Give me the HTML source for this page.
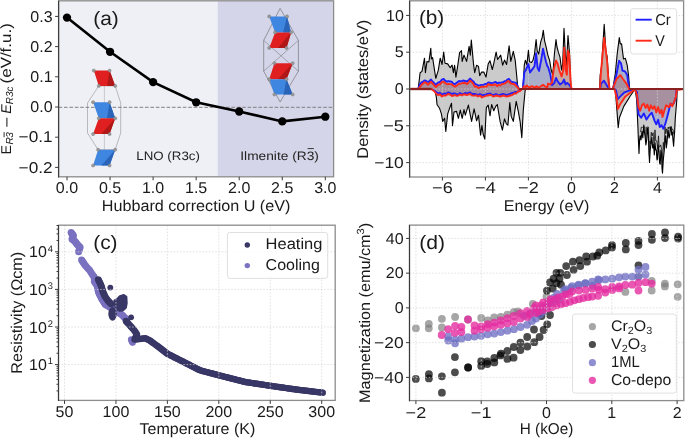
<!DOCTYPE html>
<html><head><meta charset="utf-8"><title>figure</title>
<style>html,body{margin:0;padding:0;background:#fff;width:685px;height:438px;overflow:hidden}
svg{display:block;font-family:"Liberation Sans",sans-serif;text-rendering:geometricPrecision}</style></head>
<body><svg width="685" height="438" viewBox="0 0 685 438">
<rect width="685" height="438" fill="#fff"/>
<rect x="58.6" y="0.8" width="159.07" height="176" fill="#efeff6"/>
<rect x="217.67" y="0.8" width="115.93" height="176" fill="#d5d5e9"/>
<line x1="58.6" y1="107.3" x2="333.6" y2="107.3" stroke="#7a7a7a" stroke-width="0.95" stroke-dasharray="3.6,1.8"/>
<polyline points="98.8,85.9 115.2,85.9 120.7,103 120.7,133 115.2,149.7 98.1,149.7 87.5,133 87.5,103 98.8,85.9" fill="none" stroke="#808080" stroke-width="0.5"/>
<line x1="104.4" y1="86" x2="104.4" y2="150" stroke="#909090" stroke-width="0.4"/>
<polygon points="93.8,70.6 109.6,70.6 115.2,85.9 98.8,85.9" fill="#e02020"/>
<polygon points="109.6,70.6 115.2,85.9 107,85.9" fill="#b01818"/>
<polygon points="93.1,102.2 109.6,102.2 115.2,118.3 98.8,118.3" fill="#3f86e0"/>
<polygon points="109.6,102.2 115.2,118.3 107,118.3" fill="#2a64b8"/>
<polygon points="98.8,118.3 115.2,118.3 109.6,134.1 93.1,134.1" fill="#e02020"/>
<polygon points="115.2,118.3 109.6,134.1 101.35,134.1" fill="#b01818"/>
<polygon points="98.1,149.7 115.2,149.7 109.6,165.5 93.1,165.5" fill="#3f86e0"/>
<polygon points="115.2,149.7 109.6,165.5 101.35,165.5" fill="#2a64b8"/>
<circle cx="93.8" cy="70.6" r="1.6" fill="#9a9a9a" stroke="#6a6a6a" stroke-width="0.35"/>
<circle cx="109.6" cy="70.6" r="1.6" fill="#9a9a9a" stroke="#6a6a6a" stroke-width="0.35"/>
<circle cx="115.2" cy="85.9" r="1.6" fill="#9a9a9a" stroke="#6a6a6a" stroke-width="0.35"/>
<circle cx="98.8" cy="85.9" r="1.6" fill="#9a9a9a" stroke="#6a6a6a" stroke-width="0.35"/>
<circle cx="93.1" cy="102.2" r="1.6" fill="#9a9a9a" stroke="#6a6a6a" stroke-width="0.35"/>
<circle cx="109.6" cy="102.2" r="1.6" fill="#9a9a9a" stroke="#6a6a6a" stroke-width="0.35"/>
<circle cx="115.2" cy="118.3" r="1.6" fill="#9a9a9a" stroke="#6a6a6a" stroke-width="0.35"/>
<circle cx="98.8" cy="118.3" r="1.6" fill="#9a9a9a" stroke="#6a6a6a" stroke-width="0.35"/>
<circle cx="109.6" cy="134.1" r="1.6" fill="#9a9a9a" stroke="#6a6a6a" stroke-width="0.35"/>
<circle cx="93.1" cy="134.1" r="1.6" fill="#9a9a9a" stroke="#6a6a6a" stroke-width="0.35"/>
<circle cx="98.1" cy="149.7" r="1.6" fill="#9a9a9a" stroke="#6a6a6a" stroke-width="0.35"/>
<circle cx="115.2" cy="149.7" r="1.6" fill="#9a9a9a" stroke="#6a6a6a" stroke-width="0.35"/>
<circle cx="109.6" cy="165.5" r="1.6" fill="#9a9a9a" stroke="#6a6a6a" stroke-width="0.35"/>
<circle cx="93.1" cy="165.5" r="1.6" fill="#9a9a9a" stroke="#6a6a6a" stroke-width="0.35"/>
<polyline points="280.1,8.4 298.4,40.4 298.4,71.2 280.1,102 263.7,71.2 263.7,40.4 280.1,8.4" fill="none" stroke="#505050" stroke-width="0.5"/>
<polyline points="263.7,40.4 298.4,71.2" fill="none" stroke="#505050" stroke-width="0.4"/>
<polyline points="298.4,40.4 263.7,71.2" fill="none" stroke="#505050" stroke-width="0.4"/>
<polygon points="269.2,16.4 287,16.4 291.1,32.4 275.1,32.4" fill="#3f86e0"/>
<polygon points="287,16.4 291.1,32.4 283.1,32.4" fill="#2a64b8"/>
<polygon points="275.1,32.4 291.1,32.4 286.5,47.9 269.2,47.9" fill="#e02020"/>
<polygon points="291.1,32.4 286.5,47.9 277.85,47.9" fill="#b01818"/>
<polygon points="274.4,63.2 292.7,63.2 286.5,79.2 269.2,79.2" fill="#e02020"/>
<polygon points="292.7,63.2 286.5,79.2 277.85,79.2" fill="#b01818"/>
<polygon points="269.2,79.2 286.5,79.2 292.7,94.5 274.4,94.5" fill="#3f86e0"/>
<polygon points="286.5,79.2 292.7,94.5 283.55,94.5" fill="#2a64b8"/>
<circle cx="269.2" cy="16.4" r="1.6" fill="#9a9a9a" stroke="#6a6a6a" stroke-width="0.35"/>
<circle cx="287" cy="16.4" r="1.6" fill="#9a9a9a" stroke="#6a6a6a" stroke-width="0.35"/>
<circle cx="291.1" cy="32.4" r="1.6" fill="#9a9a9a" stroke="#6a6a6a" stroke-width="0.35"/>
<circle cx="275.1" cy="32.4" r="1.6" fill="#9a9a9a" stroke="#6a6a6a" stroke-width="0.35"/>
<circle cx="286.5" cy="47.9" r="1.6" fill="#9a9a9a" stroke="#6a6a6a" stroke-width="0.35"/>
<circle cx="269.2" cy="47.9" r="1.6" fill="#9a9a9a" stroke="#6a6a6a" stroke-width="0.35"/>
<circle cx="274.4" cy="63.2" r="1.6" fill="#9a9a9a" stroke="#6a6a6a" stroke-width="0.35"/>
<circle cx="292.7" cy="63.2" r="1.6" fill="#9a9a9a" stroke="#6a6a6a" stroke-width="0.35"/>
<circle cx="286.5" cy="79.2" r="1.6" fill="#9a9a9a" stroke="#6a6a6a" stroke-width="0.35"/>
<circle cx="269.2" cy="79.2" r="1.6" fill="#9a9a9a" stroke="#6a6a6a" stroke-width="0.35"/>
<circle cx="292.7" cy="94.5" r="1.6" fill="#9a9a9a" stroke="#6a6a6a" stroke-width="0.35"/>
<circle cx="274.4" cy="94.5" r="1.6" fill="#9a9a9a" stroke="#6a6a6a" stroke-width="0.35"/>
<polyline points="67,17.6 110.05,51.8 153.1,82.1 196.15,102.3 239.2,111.5 282.25,121.4 325.3,116.7" fill="none" stroke="#000" stroke-width="2.6"/>
<circle cx="67" cy="17.6" r="4.15" fill="#000"/>
<circle cx="110.05" cy="51.8" r="4.15" fill="#000"/>
<circle cx="153.1" cy="82.1" r="4.15" fill="#000"/>
<circle cx="196.15" cy="102.3" r="4.15" fill="#000"/>
<circle cx="239.2" cy="111.5" r="4.15" fill="#000"/>
<circle cx="282.25" cy="121.4" r="4.15" fill="#000"/>
<circle cx="325.3" cy="116.7" r="4.15" fill="#000"/>
<rect x="58.6" y="0.8" width="275" height="176" fill="none" stroke="#8c8c8c" stroke-width="1.3"/>
<line x1="58.6" y1="0.8" x2="58.6" y2="177.4" stroke="#3a3a3a" stroke-width="1.1"/>
<line x1="55.1" y1="16.4" x2="58.6" y2="16.4" stroke="#3a3a3a" stroke-width="1"/>
<line x1="55.1" y1="46.6" x2="58.6" y2="46.6" stroke="#3a3a3a" stroke-width="1"/>
<line x1="55.1" y1="76.8" x2="58.6" y2="76.8" stroke="#3a3a3a" stroke-width="1"/>
<line x1="55.1" y1="107" x2="58.6" y2="107" stroke="#3a3a3a" stroke-width="1"/>
<line x1="55.1" y1="137.2" x2="58.6" y2="137.2" stroke="#3a3a3a" stroke-width="1"/>
<line x1="55.1" y1="167.4" x2="58.6" y2="167.4" stroke="#3a3a3a" stroke-width="1"/>
<line x1="67" y1="176.8" x2="67" y2="180.3" stroke="#3a3a3a" stroke-width="1"/>
<line x1="110.05" y1="176.8" x2="110.05" y2="180.3" stroke="#3a3a3a" stroke-width="1"/>
<line x1="153.1" y1="176.8" x2="153.1" y2="180.3" stroke="#3a3a3a" stroke-width="1"/>
<line x1="196.15" y1="176.8" x2="196.15" y2="180.3" stroke="#3a3a3a" stroke-width="1"/>
<line x1="239.2" y1="176.8" x2="239.2" y2="180.3" stroke="#3a3a3a" stroke-width="1"/>
<line x1="282.25" y1="176.8" x2="282.25" y2="180.3" stroke="#3a3a3a" stroke-width="1"/>
<line x1="325.3" y1="176.8" x2="325.3" y2="180.3" stroke="#3a3a3a" stroke-width="1"/>
<text x="52.6" y="21.6" font-size="15.6" text-anchor="end" textLength="22.26" lengthAdjust="spacingAndGlyphs" fill="#1a1a1a">0.3</text>
<text x="52.6" y="51.8" font-size="15.6" text-anchor="end" textLength="22.26" lengthAdjust="spacingAndGlyphs" fill="#1a1a1a">0.2</text>
<text x="52.6" y="82" font-size="15.6" text-anchor="end" textLength="22.26" lengthAdjust="spacingAndGlyphs" fill="#1a1a1a">0.1</text>
<text x="52.6" y="112.2" font-size="15.6" text-anchor="end" textLength="22.26" lengthAdjust="spacingAndGlyphs" fill="#1a1a1a">0.0</text>
<text x="52.6" y="142.4" font-size="15.6" text-anchor="end" textLength="34" lengthAdjust="spacingAndGlyphs" fill="#1a1a1a">−0.1</text>
<text x="52.6" y="172.6" font-size="15.6" text-anchor="end" textLength="34" lengthAdjust="spacingAndGlyphs" fill="#1a1a1a">−0.2</text>
<text x="67" y="192.7" font-size="15.6" text-anchor="middle" textLength="22.26" lengthAdjust="spacingAndGlyphs" fill="#1a1a1a">0.0</text>
<text x="110.05" y="192.7" font-size="15.6" text-anchor="middle" textLength="22.26" lengthAdjust="spacingAndGlyphs" fill="#1a1a1a">0.5</text>
<text x="153.1" y="192.7" font-size="15.6" text-anchor="middle" textLength="22.26" lengthAdjust="spacingAndGlyphs" fill="#1a1a1a">1.0</text>
<text x="196.15" y="192.7" font-size="15.6" text-anchor="middle" textLength="22.26" lengthAdjust="spacingAndGlyphs" fill="#1a1a1a">1.5</text>
<text x="239.2" y="192.7" font-size="15.6" text-anchor="middle" textLength="22.26" lengthAdjust="spacingAndGlyphs" fill="#1a1a1a">2.0</text>
<text x="282.25" y="192.7" font-size="15.6" text-anchor="middle" textLength="22.26" lengthAdjust="spacingAndGlyphs" fill="#1a1a1a">2.5</text>
<text x="325.3" y="192.7" font-size="15.6" text-anchor="middle" textLength="22.26" lengthAdjust="spacingAndGlyphs" fill="#1a1a1a">3.0</text>
<text x="196.1" y="211" font-size="15.6" text-anchor="middle" textLength="188.55" lengthAdjust="spacingAndGlyphs" fill="#1a1a1a">Hubbard correction U (eV)</text>
<text x="93.2" y="24.8" font-size="19.5" textLength="25.6" lengthAdjust="spacingAndGlyphs" fill="#1a1a1a">(a)</text>
<text x="136.3" y="160" font-size="12.2" textLength="63.6" lengthAdjust="spacingAndGlyphs" fill="#222">LNO (R3c)</text>
<text x="240.3" y="160" font-size="12.2" textLength="78.6" lengthAdjust="spacingAndGlyphs" fill="#222">Ilmenite (R3)</text>
<line x1="307.6" y1="148.6" x2="313.8" y2="148.6" stroke="#222" stroke-width="0.9"/>
<g transform="translate(10.5,154.6) rotate(-90)" fill="#1a1a1a"><text x="0.2" y="0" font-size="14.2">E</text><text x="10.0" y="2.6" font-size="10.2" font-style="italic">R</text><text x="16.9" y="2.6" font-size="10.2" font-style="italic">3</text><line x1="17.4" y1="-6.4" x2="22.4" y2="-6.4" stroke="#1a1a1a" stroke-width="0.9"/><line x1="27.8" y1="-3.6" x2="36.9" y2="-3.6" stroke="#1a1a1a" stroke-width="1.05"/><text x="40.8" y="0" font-size="14.2" font-style="italic">E</text><text x="50.4" y="2.6" font-size="10.2" font-style="italic" textLength="17.6" lengthAdjust="spacingAndGlyphs">R3c</text><text x="71.2" y="0" font-size="14.8" textLength="60.2" lengthAdjust="spacingAndGlyphs">(eV/f.u.)</text></g>
<polygon points="409.6,89 418.2,89 420.1,72.7 422,71.4 424.5,58.2 425.4,72.7 427,61.4 428.9,62 430.8,48.2 431.4,58.9 432.6,57.6 435.8,78.3 438.3,70.2 440.2,58.2 442.1,64.5 443.7,52 445,63.3 447.7,63.9 450.2,67.7 452.1,65.2 453.4,72.7 454.6,65.2 455.9,77.1 457.8,65.2 459.6,52.6 461.5,50.7 462.2,61.4 464,55.1 466.6,61.4 469.1,46.3 470.3,55.1 471.3,40 473.5,63.9 474.7,72.7 476.6,65.2 478.5,66.4 479.7,75.8 481.6,72.1 483.8,72 486,77.1 488.2,63.9 490,60.8 492.3,69.5 493.8,63.3 496.1,52 497.6,59.5 500.7,55.1 502.6,65.2 504.5,60.1 506.6,64.5 509.1,45.7 510.8,61.4 513.3,51.3 515.2,60.1 517.7,86.5 518.9,89 522.7,89 522.9,89 523.1,86.3 524.3,64.8 525.4,60.2 526.9,64.8 528.4,50.3 529.5,61.8 531.5,62.5 533,60.2 534.5,54.1 536.1,39.5 537.2,51 538.7,54.1 540.7,41.8 542.2,37.3 543.3,30.4 544.5,40.3 546,46.4 547.3,52.6 548,55.6 549.6,60.4 551.2,70 552.8,74.8 554.4,54 556,39.6 556.8,46 558.4,52.4 560,57.2 561.6,70 562.7,63.6 564,28.4 565.3,54 566.4,65.2 568,35.6 569.6,54 570.7,82.8 571.7,89 599.6,89 600.2,75 601.5,66.5 604.2,24.4 605.9,51.4 607.1,56.4 608.4,75 609.6,89 612.8,89 615.3,73.8 617.2,53.9 619.3,37.6 620.3,43.9 621.6,43.9 623.5,58.9 625.4,58.3 627.2,65.2 628.5,75 629.7,89 683.6,89 683.6,89 678,89 677.2,90 676.8,100 675.9,110.7 675.3,118 674.6,132.1 674.1,138 673.6,146.3 673,140 672.3,132.1 671.7,135 671.1,126.7 670.4,128 669.7,135.7 669,138 668.2,130.3 667.6,135 667,142.8 666.3,148 665.7,135.7 665,140 664.3,149.9 663.3,160 662.5,173.1 662,168 661.6,153.5 660.9,150 660.2,164.2 659.6,163 659,151.7 658.2,145 657.5,158.8 657,160 656.3,149.9 655.7,150 655,142.8 654.3,155 653.6,144.6 652.7,148 651.8,137.4 650.9,144.6 650.2,150 649.5,162.4 648.9,150 648.3,133.9 647.5,128 646.8,139.2 645.9,145 645,135.7 644.4,132 643.8,125 642.8,138 642,131.2 641,140 640.2,135.7 639.6,140 639,153.5 638.4,140 637.9,126.7 636.7,100 635.2,90 633.9,90.7 630.1,96.3 623.8,106.4 619.4,117.7 618.2,127.7 616.9,110.1 615.3,89.5 614.5,89 526.5,89 525.2,90 523.3,110.1 521.8,137.8 520.2,122.1 518.3,111.4 516.2,101.3 513.3,121.4 511.2,116.4 509.8,102.6 507.9,125.2 506.4,123.9 504.5,118.9 502.4,130.2 500.1,121.4 497.3,104.5 495.7,106.4 493.8,110.8 491.6,104.5 490,115.8 488.2,105.1 486.3,107.6 484.8,139 483.1,134 481.9,125.2 480.6,135.3 478.5,115.2 476.6,120.8 474.1,108.9 471.6,121.4 470.3,115.2 468.4,105.1 465.3,115.2 464,109.5 462.2,118.3 460.3,110.1 458.4,118.3 456.5,111.4 454,112 452.5,125.8 451.5,103.2 449.6,108.2 447.7,113.9 445.8,131.5 444.6,118.3 442.7,121.4 441.4,113.9 439.5,108.2 437,104.5 436.4,97.6 435.2,91.3 431.4,89 409.6,89" fill="#cbcbcb"/>
<polygon points="409.6,89 418.2,89 420,84 421.5,82.36 423,81.75 424.5,80.5 426.25,81.02 428,82 429.5,80.94 431,79.5 432.5,81.48 434,83 436,85 438,82.72 440,82 441.85,79.62 443.7,79 445.35,80.86 447,81.5 448.67,81.23 450.33,81.36 452,82 453.5,83.89 455,84 457,82.45 459,81 461,81.36 463,80.5 465,80.96 467,81.5 468.5,80.25 470,78.5 472,80.5 473.5,81.62 475,84 476.67,84.68 478.33,85.53 480,85.3 481.67,84.91 483.33,84.87 485,84 486.67,83.88 488.33,82.35 490,82.7 491.43,83.16 492.86,82.86 494.29,82.34 495.71,81.86 497.14,83.36 498.57,82.65 500,82.7 501.52,82.48 503.03,82.15 504.55,81.24 506.07,80.99 507.58,79.43 509.1,79 510.55,81.04 512,82 514,82.4 516,83 519,89 522.7,89 522.9,89 523.1,86 524.3,72.5 526.1,69.4 528.4,64 530,72.5 532.3,69.4 534.5,66.3 536.1,53.3 537.6,67.9 539.1,70.9 541.4,58.7 543,48.7 544.5,55.6 546,61.8 547.3,66 548,66.8 550.4,74.8 552,85.2 554.4,82.8 556,78 557.6,81.2 560,84.4 562.4,82.8 564,79.6 565.6,84.4 567.2,82.8 569.6,85.2 571.2,88 571.5,89 600.2,89 600.9,83.9 604,80.7 607.8,87 609,89 613,89 614,85.1 616.6,73.8 619.1,60.8 621,63.3 622.5,70.7 624.7,71.1 627.2,75.1 629.1,88.3 629.7,89 683.6,89" fill="#d4dcff" style="mix-blend-mode:multiply"/>
<polygon points="409.6,89 431.4,89 434,90.5 436,92 438,93.5 440,93 442,94.5 444,93.5 446,94 448,92.5 450,93 452,94 453.5,93.49 455,93.5 457,94.5 458.5,94.39 460,93 462,94 463.5,94.06 465,93 467,93.5 468.5,92.83 470,92.5 472,94 473.5,93.94 475,94 476.5,94.53 478,95 480,94 482,95.5 484,95 485.5,94.7 487,94 488.5,93.88 490,93.5 491.5,94.33 493,95 494.5,94.67 496,94 498,95.12 500,95 501.5,94.51 503,94 504.5,94.4 506,95 508,94.81 510,94 511.5,93.13 513,93 514.5,92.22 516,92 518,91.67 520,90 522,89 614.5,89 615.9,90.2 617.8,99 620.3,96.4 624.1,92.7 630.4,90.2 635,89.5 637,92 638.5,114.3 641.1,117.8 643.8,113.4 646.5,119.6 649.2,115.4 651.8,112.7 654.5,120.6 656.3,124.3 658.1,119.8 659.8,127 661.6,125.2 663.4,128.7 665.2,124.2 667,117.8 668.8,110.7 670.5,103.6 672.3,105.3 674.1,102.7 675.9,97 676.5,89 683.6,89" fill="#d4dcff" style="mix-blend-mode:multiply"/>
<polygon points="409.6,89 418.2,89 420,86.72 421.5,85.02 423,83.46 424.5,82.26 426.25,82.88 428,84.76 429.5,83.06 431,81.85 432.5,83.44 434,85.21 436,87.06 438,84.74 440,84.3 441.85,81.92 443.7,81.69 445.35,83.28 447,84.21 448.67,83.86 450.33,84.14 452,84.41 453.5,85.69 455,86.63 457,85.2 459,83.69 461,83.64 463,82.96 465,82.81 467,84.1 468.5,82.54 470,80.44 472,82.18 473.5,84.25 475,86.79 476.67,86.38 478.33,88.09 480,87.39 481.67,86.69 483.33,86.82 485,86.52 486.67,86.52 488.33,84 490,85.04 491.43,84.82 492.86,85.33 494.29,84.34 495.71,84.51 497.14,86.13 498.57,84.86 500,85.5 501.52,84.45 503.03,83.84 504.55,83.56 506.07,82.63 507.58,81.26 509.1,81.09 510.55,83.37 512,83.79 514,84.05 516,85.64 519,89 522.7,89 522.9,89 523.8,86.3 525.4,87 526.9,85.5 529.2,87.8 530.8,86.5 532.3,86.3 534,87.5 535.3,87 537,86.3 538.4,87.8 540.5,86.5 543,84.7 544.5,86 546,87 547.3,87.5 548,83.5 550,84.5 552,82.8 553.6,70 556,60.4 557.6,63.6 559.2,70 561.6,76.4 563.2,70 564.3,47.6 565.6,70 566.9,74.8 568,50.8 569.1,54 570.7,82.8 571.5,89 600,89 600.9,72.8 604.2,37.6 607.1,61.5 608.4,80 609.6,89 613,89 613.4,87 616.6,78.8 619.1,76.3 620.3,75.1 622.8,78.8 626.6,83.9 629.1,89 683.6,89" fill="#fcd3c9" style="mix-blend-mode:multiply"/>
<polygon points="409.6,89 431.4,89 434,91 436,93.5 438,95 440,94.5 442,96.5 443.5,95.5 446,95.5 448,94 450,94.5 452,96 453.5,95.53 455,95 457,96 458.5,95.32 460,94.5 462,95.5 463.5,94.32 465,94.5 467,95 468.5,94.38 470,94 472,95.5 473.5,95.61 475,95.5 476.5,95.33 478,96.5 480,95.5 482,97.5 484,96.5 485.5,96.16 487,95.5 488.5,95.44 490,95 491.5,95.13 493,96.5 494.5,96.18 496,95.5 498,95.95 500,96.5 501.5,96.25 503,95.5 504.5,95.79 506,96.5 508,96.29 510,95.5 511.5,95.33 513,94.5 514.5,93.33 516,93.5 518,91.63 520,91 522,89 614.5,89 616.6,97.7 617.8,109 620.3,104 625.4,96.4 632.9,90.8 635,89.5 637,95 638.5,107.1 640.2,110.7 642,105.3 643.8,103.6 645.6,108 647.4,104.5 649.2,110.7 650.9,105.3 652.7,108.9 654.5,106.2 656.3,112.5 658.1,107.1 659.8,113.4 661.6,109.8 662.5,116.9 664.3,110.7 666.1,105.3 668.8,107.1 670.5,103.6 672.3,106.2 674.1,101.8 675.9,97 676.6,90 683.6,89" fill="#fcd3c9" style="mix-blend-mode:multiply"/>
<line x1="409.6" y1="15.4" x2="683.6" y2="15.4" stroke="#d6d6d6" stroke-width="0.7" stroke-dasharray="1.6,1.6"/>
<line x1="409.6" y1="52.2" x2="683.6" y2="52.2" stroke="#d6d6d6" stroke-width="0.7" stroke-dasharray="1.6,1.6"/>
<line x1="409.6" y1="89" x2="683.6" y2="89" stroke="#d6d6d6" stroke-width="0.7" stroke-dasharray="1.6,1.6"/>
<line x1="409.6" y1="125.8" x2="683.6" y2="125.8" stroke="#d6d6d6" stroke-width="0.7" stroke-dasharray="1.6,1.6"/>
<line x1="409.6" y1="162.6" x2="683.6" y2="162.6" stroke="#d6d6d6" stroke-width="0.7" stroke-dasharray="1.6,1.6"/>
<line x1="442.4" y1="0.8" x2="442.4" y2="177" stroke="#d6d6d6" stroke-width="0.7" stroke-dasharray="1.6,1.6"/>
<line x1="485.4" y1="0.8" x2="485.4" y2="177" stroke="#d6d6d6" stroke-width="0.7" stroke-dasharray="1.6,1.6"/>
<line x1="528.4" y1="0.8" x2="528.4" y2="177" stroke="#d6d6d6" stroke-width="0.7" stroke-dasharray="1.6,1.6"/>
<line x1="571.4" y1="0.8" x2="571.4" y2="177" stroke="#d6d6d6" stroke-width="0.7" stroke-dasharray="1.6,1.6"/>
<line x1="614.4" y1="0.8" x2="614.4" y2="177" stroke="#d6d6d6" stroke-width="0.7" stroke-dasharray="1.6,1.6"/>
<line x1="657.4" y1="0.8" x2="657.4" y2="177" stroke="#d6d6d6" stroke-width="0.7" stroke-dasharray="1.6,1.6"/>
<line x1="409.6" y1="89" x2="431.4" y2="89" stroke="#8b2020" stroke-width="2.2"/>
<line x1="519" y1="89" x2="614.5" y2="89" stroke="#8b2020" stroke-width="2.2"/>
<line x1="629" y1="89" x2="683.6" y2="89" stroke="#8b2020" stroke-width="2.2"/>
<polyline points="409.6,89 418.2,89 420.1,72.7 422,71.4 424.5,58.2 425.4,72.7 427,61.4 428.9,62 430.8,48.2 431.4,58.9 432.6,57.6 435.8,78.3 438.3,70.2 440.2,58.2 442.1,64.5 443.7,52 445,63.3 447.7,63.9 450.2,67.7 452.1,65.2 453.4,72.7 454.6,65.2 455.9,77.1 457.8,65.2 459.6,52.6 461.5,50.7 462.2,61.4 464,55.1 466.6,61.4 469.1,46.3 470.3,55.1 471.3,40 473.5,63.9 474.7,72.7 476.6,65.2 478.5,66.4 479.7,75.8 481.6,72.1 483.8,72 486,77.1 488.2,63.9 490,60.8 492.3,69.5 493.8,63.3 496.1,52 497.6,59.5 500.7,55.1 502.6,65.2 504.5,60.1 506.6,64.5 509.1,45.7 510.8,61.4 513.3,51.3 515.2,60.1 517.7,86.5 518.9,89 522.7,89 522.9,89 523.1,86.3 524.3,64.8 525.4,60.2 526.9,64.8 528.4,50.3 529.5,61.8 531.5,62.5 533,60.2 534.5,54.1 536.1,39.5 537.2,51 538.7,54.1 540.7,41.8 542.2,37.3 543.3,30.4 544.5,40.3 546,46.4 547.3,52.6 548,55.6 549.6,60.4 551.2,70 552.8,74.8 554.4,54 556,39.6 556.8,46 558.4,52.4 560,57.2 561.6,70 562.7,63.6 564,28.4 565.3,54 566.4,65.2 568,35.6 569.6,54 570.7,82.8 571.7,89 599.6,89 600.2,75 601.5,66.5 604.2,24.4 605.9,51.4 607.1,56.4 608.4,75 609.6,89 612.8,89 615.3,73.8 617.2,53.9 619.3,37.6 620.3,43.9 621.6,43.9 623.5,58.9 625.4,58.3 627.2,65.2 628.5,75 629.7,89 683.6,89" fill="none" stroke="#000" stroke-width="1.1" stroke-linejoin="round"/>
<polyline points="409.6,89 431.4,89 435.2,91.3 436.4,97.6 437,104.5 439.5,108.2 441.4,113.9 442.7,121.4 444.6,118.3 445.8,131.5 447.7,113.9 449.6,108.2 451.5,103.2 452.5,125.8 454,112 456.5,111.4 458.4,118.3 460.3,110.1 462.2,118.3 464,109.5 465.3,115.2 468.4,105.1 470.3,115.2 471.6,121.4 474.1,108.9 476.6,120.8 478.5,115.2 480.6,135.3 481.9,125.2 483.1,134 484.8,139 486.3,107.6 488.2,105.1 490,115.8 491.6,104.5 493.8,110.8 495.7,106.4 497.3,104.5 500.1,121.4 502.4,130.2 504.5,118.9 506.4,123.9 507.9,125.2 509.8,102.6 511.2,116.4 513.3,121.4 516.2,101.3 518.3,111.4 520.2,122.1 521.8,137.8 523.3,110.1 525.2,90 526.5,89 614.5,89 615.3,89.5 616.9,110.1 618.2,127.7 619.4,117.7 623.8,106.4 630.1,96.3 633.9,90.7 635.2,90 636.7,100 637.9,126.7 638.4,140 639,153.5 639.6,140 640.2,135.7 641,140 642,131.2 642.8,138 643.8,125 644.4,132 645,135.7 645.9,145 646.8,139.2 647.5,128 648.3,133.9 648.9,150 649.5,162.4 650.2,150 650.9,144.6 651.8,137.4 652.7,148 653.6,144.6 654.3,155 655,142.8 655.7,150 656.3,149.9 657,160 657.5,158.8 658.2,145 659,151.7 659.6,163 660.2,164.2 660.9,150 661.6,153.5 662,168 662.5,173.1 663.3,160 664.3,149.9 665,140 665.7,135.7 666.3,148 667,142.8 667.6,135 668.2,130.3 669,138 669.7,135.7 670.4,128 671.1,126.7 671.7,135 672.3,132.1 673,140 673.6,146.3 674.1,138 674.6,132.1 675.3,118 675.9,110.7 676.8,100 677.2,90 678,89 683.6,89" fill="none" stroke="#000" stroke-width="1.1" stroke-linejoin="round"/>
<polyline points="640.5,132.15 641.38,127 642.21,127.45 643.11,127 643.96,127 644.96,127 645.71,140.41 646.72,127 647.34,127 648.42,127 649.33,155.71 649.93,140.96 650.56,143.86 651.28,132.25 652.12,136.05 653.14,132.67 654.06,145.91 654.99,129.87 655.73,141.01 656.83,140.93 657.78,149.07 658.49,135.87 659.13,146.79 659.93,147.04 660.72,144.87 661.75,149.83 662.45,164.24 663.29,142.39 664.09,149.55 665,127 665.74,133.81 666.5,128.83 667.48,133.73 668.2,127 668.83,128.82 669.52,127 670.35,127 671.31,127 672.23,129.6 673.04,129.55 673.78,134.53" fill="none" stroke="#111" stroke-width="0.8" stroke-linejoin="round"/>
<polyline points="409.6,89 418.2,89 420,84 421.5,82.36 423,81.75 424.5,80.5 426.25,81.02 428,82 429.5,80.94 431,79.5 432.5,81.48 434,83 436,85 438,82.72 440,82 441.85,79.62 443.7,79 445.35,80.86 447,81.5 448.67,81.23 450.33,81.36 452,82 453.5,83.89 455,84 457,82.45 459,81 461,81.36 463,80.5 465,80.96 467,81.5 468.5,80.25 470,78.5 472,80.5 473.5,81.62 475,84 476.67,84.68 478.33,85.53 480,85.3 481.67,84.91 483.33,84.87 485,84 486.67,83.88 488.33,82.35 490,82.7 491.43,83.16 492.86,82.86 494.29,82.34 495.71,81.86 497.14,83.36 498.57,82.65 500,82.7 501.52,82.48 503.03,82.15 504.55,81.24 506.07,80.99 507.58,79.43 509.1,79 510.55,81.04 512,82 514,82.4 516,83 519,89 522.7,89 522.9,89 523.1,86 524.3,72.5 526.1,69.4 528.4,64 530,72.5 532.3,69.4 534.5,66.3 536.1,53.3 537.6,67.9 539.1,70.9 541.4,58.7 543,48.7 544.5,55.6 546,61.8 547.3,66 548,66.8 550.4,74.8 552,85.2 554.4,82.8 556,78 557.6,81.2 560,84.4 562.4,82.8 564,79.6 565.6,84.4 567.2,82.8 569.6,85.2 571.2,88 571.5,89 600.2,89 600.9,83.9 604,80.7 607.8,87 609,89 613,89 614,85.1 616.6,73.8 619.1,60.8 621,63.3 622.5,70.7 624.7,71.1 627.2,75.1 629.1,88.3 629.7,89 683.6,89" fill="none" stroke="#1f1fff" stroke-width="1.9" stroke-linejoin="round"/>
<polyline points="409.6,89 431.4,89 434,90.5 436,92 438,93.5 440,93 442,94.5 444,93.5 446,94 448,92.5 450,93 452,94 453.5,93.49 455,93.5 457,94.5 458.5,94.39 460,93 462,94 463.5,94.06 465,93 467,93.5 468.5,92.83 470,92.5 472,94 473.5,93.94 475,94 476.5,94.53 478,95 480,94 482,95.5 484,95 485.5,94.7 487,94 488.5,93.88 490,93.5 491.5,94.33 493,95 494.5,94.67 496,94 498,95.12 500,95 501.5,94.51 503,94 504.5,94.4 506,95 508,94.81 510,94 511.5,93.13 513,93 514.5,92.22 516,92 518,91.67 520,90 522,89 614.5,89 615.9,90.2 617.8,99 620.3,96.4 624.1,92.7 630.4,90.2 635,89.5 637,92 638.5,114.3 641.1,117.8 643.8,113.4 646.5,119.6 649.2,115.4 651.8,112.7 654.5,120.6 656.3,124.3 658.1,119.8 659.8,127 661.6,125.2 663.4,128.7 665.2,124.2 667,117.8 668.8,110.7 670.5,103.6 672.3,105.3 674.1,102.7 675.9,97 676.5,89 683.6,89" fill="none" stroke="#1f1fff" stroke-width="1.9" stroke-linejoin="round"/>
<polyline points="409.6,89 418.2,89 420,86.72 421.5,85.02 423,83.46 424.5,82.26 426.25,82.88 428,84.76 429.5,83.06 431,81.85 432.5,83.44 434,85.21 436,87.06 438,84.74 440,84.3 441.85,81.92 443.7,81.69 445.35,83.28 447,84.21 448.67,83.86 450.33,84.14 452,84.41 453.5,85.69 455,86.63 457,85.2 459,83.69 461,83.64 463,82.96 465,82.81 467,84.1 468.5,82.54 470,80.44 472,82.18 473.5,84.25 475,86.79 476.67,86.38 478.33,88.09 480,87.39 481.67,86.69 483.33,86.82 485,86.52 486.67,86.52 488.33,84 490,85.04 491.43,84.82 492.86,85.33 494.29,84.34 495.71,84.51 497.14,86.13 498.57,84.86 500,85.5 501.52,84.45 503.03,83.84 504.55,83.56 506.07,82.63 507.58,81.26 509.1,81.09 510.55,83.37 512,83.79 514,84.05 516,85.64 519,89 522.7,89 522.9,89 523.8,86.3 525.4,87 526.9,85.5 529.2,87.8 530.8,86.5 532.3,86.3 534,87.5 535.3,87 537,86.3 538.4,87.8 540.5,86.5 543,84.7 544.5,86 546,87 547.3,87.5 548,83.5 550,84.5 552,82.8 553.6,70 556,60.4 557.6,63.6 559.2,70 561.6,76.4 563.2,70 564.3,47.6 565.6,70 566.9,74.8 568,50.8 569.1,54 570.7,82.8 571.5,89 600,89 600.9,72.8 604.2,37.6 607.1,61.5 608.4,80 609.6,89 613,89 613.4,87 616.6,78.8 619.1,76.3 620.3,75.1 622.8,78.8 626.6,83.9 629.1,89 683.6,89" fill="none" stroke="#ff2a1a" stroke-width="1.9" stroke-linejoin="round"/>
<polyline points="409.6,89 431.4,89 434,91 436,93.5 438,95 440,94.5 442,96.5 443.5,95.5 446,95.5 448,94 450,94.5 452,96 453.5,95.53 455,95 457,96 458.5,95.32 460,94.5 462,95.5 463.5,94.32 465,94.5 467,95 468.5,94.38 470,94 472,95.5 473.5,95.61 475,95.5 476.5,95.33 478,96.5 480,95.5 482,97.5 484,96.5 485.5,96.16 487,95.5 488.5,95.44 490,95 491.5,95.13 493,96.5 494.5,96.18 496,95.5 498,95.95 500,96.5 501.5,96.25 503,95.5 504.5,95.79 506,96.5 508,96.29 510,95.5 511.5,95.33 513,94.5 514.5,93.33 516,93.5 518,91.63 520,91 522,89 614.5,89 616.6,97.7 617.8,109 620.3,104 625.4,96.4 632.9,90.8 635,89.5 637,95 638.5,107.1 640.2,110.7 642,105.3 643.8,103.6 645.6,108 647.4,104.5 649.2,110.7 650.9,105.3 652.7,108.9 654.5,106.2 656.3,112.5 658.1,107.1 659.8,113.4 661.6,109.8 662.5,116.9 664.3,110.7 666.1,105.3 668.8,107.1 670.5,103.6 672.3,106.2 674.1,101.8 675.9,97 676.6,90 683.6,89" fill="none" stroke="#ff2a1a" stroke-width="1.9" stroke-linejoin="round"/>
<line x1="409.6" y1="89" x2="431.4" y2="89" stroke="#8b2020" stroke-width="2.2"/>
<line x1="519" y1="89" x2="614.5" y2="89" stroke="#8b2020" stroke-width="2.2"/>
<line x1="629.2" y1="89" x2="683.6" y2="89" stroke="#8b2020" stroke-width="2.2"/>
<rect x="409.6" y="0.8" width="274" height="176.2" fill="none" stroke="#8c8c8c" stroke-width="1.3"/>
<line x1="409.6" y1="0.8" x2="409.6" y2="177.6" stroke="#3a3a3a" stroke-width="1.1"/>
<line x1="406.1" y1="15.4" x2="409.6" y2="15.4" stroke="#3a3a3a" stroke-width="1"/>
<line x1="406.1" y1="52.2" x2="409.6" y2="52.2" stroke="#3a3a3a" stroke-width="1"/>
<line x1="406.1" y1="89" x2="409.6" y2="89" stroke="#3a3a3a" stroke-width="1"/>
<line x1="406.1" y1="125.8" x2="409.6" y2="125.8" stroke="#3a3a3a" stroke-width="1"/>
<line x1="406.1" y1="162.6" x2="409.6" y2="162.6" stroke="#3a3a3a" stroke-width="1"/>
<line x1="442.4" y1="177" x2="442.4" y2="180.5" stroke="#3a3a3a" stroke-width="1"/>
<line x1="485.4" y1="177" x2="485.4" y2="180.5" stroke="#3a3a3a" stroke-width="1"/>
<line x1="528.4" y1="177" x2="528.4" y2="180.5" stroke="#3a3a3a" stroke-width="1"/>
<line x1="571.4" y1="177" x2="571.4" y2="180.5" stroke="#3a3a3a" stroke-width="1"/>
<line x1="614.4" y1="177" x2="614.4" y2="180.5" stroke="#3a3a3a" stroke-width="1"/>
<line x1="657.4" y1="177" x2="657.4" y2="180.5" stroke="#3a3a3a" stroke-width="1"/>
<text x="403.8" y="20.6" font-size="15.6" text-anchor="end" textLength="17.81" lengthAdjust="spacingAndGlyphs" fill="#1a1a1a">10</text>
<text x="403.8" y="57.4" font-size="15.6" text-anchor="end" textLength="8.91" lengthAdjust="spacingAndGlyphs" fill="#1a1a1a">5</text>
<text x="403.8" y="94.2" font-size="15.6" text-anchor="end" textLength="8.91" lengthAdjust="spacingAndGlyphs" fill="#1a1a1a">0</text>
<text x="403.8" y="131" font-size="15.6" text-anchor="end" textLength="20.64" lengthAdjust="spacingAndGlyphs" fill="#1a1a1a">−5</text>
<text x="403.8" y="167.8" font-size="15.6" text-anchor="end" textLength="29.54" lengthAdjust="spacingAndGlyphs" fill="#1a1a1a">−10</text>
<text x="442.4" y="193.2" font-size="15.6" text-anchor="middle" textLength="20.64" lengthAdjust="spacingAndGlyphs" fill="#1a1a1a">−6</text>
<text x="485.4" y="193.2" font-size="15.6" text-anchor="middle" textLength="20.64" lengthAdjust="spacingAndGlyphs" fill="#1a1a1a">−4</text>
<text x="528.4" y="193.2" font-size="15.6" text-anchor="middle" textLength="20.64" lengthAdjust="spacingAndGlyphs" fill="#1a1a1a">−2</text>
<text x="571.4" y="193.2" font-size="15.6" text-anchor="middle" textLength="8.91" lengthAdjust="spacingAndGlyphs" fill="#1a1a1a">0</text>
<text x="614.4" y="193.2" font-size="15.6" text-anchor="middle" textLength="8.91" lengthAdjust="spacingAndGlyphs" fill="#1a1a1a">2</text>
<text x="657.4" y="193.2" font-size="15.6" text-anchor="middle" textLength="8.91" lengthAdjust="spacingAndGlyphs" fill="#1a1a1a">4</text>
<text x="546.6" y="210.6" font-size="15.6" text-anchor="middle" textLength="85.64" lengthAdjust="spacingAndGlyphs" fill="#1a1a1a">Energy (eV)</text>
<text x="418.9" y="24.4" font-size="19.5" textLength="25.4" lengthAdjust="spacingAndGlyphs" fill="#1a1a1a">(b)</text>
<rect x="630.6" y="8.7" width="46.1" height="45.3" rx="2.5" fill="#fff" fill-opacity="0.85" stroke="#dcdcdc" stroke-width="0.9"/>
<line x1="635.6" y1="19.7" x2="651.7" y2="19.7" stroke="#1f1fff" stroke-width="1.9"/>
<line x1="635.6" y1="40.7" x2="651.7" y2="40.7" stroke="#ff2a1a" stroke-width="1.9"/>
<text x="655.2" y="24.8" font-size="15.6" textLength="15.53" lengthAdjust="spacingAndGlyphs" fill="#1a1a1a">Cr</text>
<text x="655.2" y="45.6" font-size="15.6" textLength="9.58" lengthAdjust="spacingAndGlyphs" fill="#1a1a1a">V</text>
<g transform="translate(368.2,89.2) rotate(-90)">
<text x="0" y="0" font-size="15.6" text-anchor="middle" textLength="139.1" lengthAdjust="spacingAndGlyphs" fill="#1a1a1a">Density (states/eV)</text>
</g>
<circle cx="71.1" cy="232.4" r="3.5" fill="#7a72c0"/>
<circle cx="71.87" cy="233.4" r="3.5" fill="#7a72c0"/>
<circle cx="72.63" cy="234.4" r="3.5" fill="#7a72c0"/>
<circle cx="73.4" cy="235.4" r="3.5" fill="#7a72c0"/>
<circle cx="72.93" cy="236.63" r="3.5" fill="#7a72c0"/>
<circle cx="72.47" cy="237.87" r="3.5" fill="#7a72c0"/>
<circle cx="72" cy="239.1" r="3.5" fill="#7a72c0"/>
<circle cx="72.97" cy="239.83" r="3.5" fill="#7a72c0"/>
<circle cx="73.93" cy="240.57" r="3.5" fill="#7a72c0"/>
<circle cx="74.9" cy="241.3" r="3.5" fill="#7a72c0"/>
<circle cx="75.63" cy="242.3" r="3.5" fill="#7a72c0"/>
<circle cx="76.37" cy="243.3" r="3.5" fill="#7a72c0"/>
<circle cx="77.1" cy="244.3" r="3.5" fill="#7a72c0"/>
<circle cx="78.1" cy="245.3" r="3.5" fill="#7a72c0"/>
<circle cx="79.1" cy="246.3" r="3.5" fill="#7a72c0"/>
<circle cx="80.1" cy="247.3" r="3.5" fill="#7a72c0"/>
<circle cx="79.6" cy="248.77" r="3.5" fill="#7a72c0"/>
<circle cx="79.1" cy="250.23" r="3.5" fill="#7a72c0"/>
<circle cx="78.6" cy="251.7" r="3.5" fill="#7a72c0"/>
<circle cx="81.5" cy="259.9" r="3.4" fill="#7a72c0"/>
<circle cx="82.25" cy="261.02" r="3.4" fill="#7a72c0"/>
<circle cx="83" cy="262.15" r="3.4" fill="#7a72c0"/>
<circle cx="83.75" cy="263.27" r="3.4" fill="#7a72c0"/>
<circle cx="84.5" cy="264.4" r="3.4" fill="#7a72c0"/>
<circle cx="85.5" cy="265.63" r="3.4" fill="#7a72c0"/>
<circle cx="86.5" cy="266.87" r="3.4" fill="#7a72c0"/>
<circle cx="87.5" cy="268.1" r="3.4" fill="#7a72c0"/>
<circle cx="88.6" cy="269.2" r="3.4" fill="#7a72c0"/>
<circle cx="89.7" cy="270.3" r="3.4" fill="#7a72c0"/>
<circle cx="90.47" cy="271.57" r="3.4" fill="#7a72c0"/>
<circle cx="91.23" cy="272.83" r="3.4" fill="#7a72c0"/>
<circle cx="92" cy="274.1" r="3.4" fill="#7a72c0"/>
<circle cx="92.73" cy="275.07" r="3.4" fill="#7a72c0"/>
<circle cx="93.47" cy="276.03" r="3.4" fill="#7a72c0"/>
<circle cx="94.2" cy="277" r="3.4" fill="#7a72c0"/>
<circle cx="94.23" cy="278.5" r="3.4" fill="#7a72c0"/>
<circle cx="94.27" cy="280" r="3.4" fill="#7a72c0"/>
<circle cx="94.3" cy="281.5" r="3.4" fill="#7a72c0"/>
<circle cx="95.13" cy="282.67" r="3.4" fill="#7a72c0"/>
<circle cx="95.97" cy="283.83" r="3.4" fill="#7a72c0"/>
<circle cx="96.8" cy="285" r="3.4" fill="#7a72c0"/>
<circle cx="97.1" cy="286.25" r="3.4" fill="#7a72c0"/>
<circle cx="97.4" cy="287.5" r="3.4" fill="#7a72c0"/>
<circle cx="97.7" cy="288.75" r="3.4" fill="#7a72c0"/>
<circle cx="98" cy="290" r="3.4" fill="#7a72c0"/>
<circle cx="98.3" cy="291.25" r="3.4" fill="#7a72c0"/>
<circle cx="98.6" cy="292.5" r="3.4" fill="#7a72c0"/>
<circle cx="99.13" cy="293.58" r="3.4" fill="#7a72c0"/>
<circle cx="99.67" cy="294.67" r="3.4" fill="#7a72c0"/>
<circle cx="100.2" cy="295.75" r="3.4" fill="#7a72c0"/>
<circle cx="100.73" cy="296.83" r="3.4" fill="#7a72c0"/>
<circle cx="101.27" cy="297.92" r="3.4" fill="#7a72c0"/>
<circle cx="101.8" cy="299" r="3.4" fill="#7a72c0"/>
<circle cx="102.5" cy="300.1" r="3.4" fill="#7a72c0"/>
<circle cx="103.2" cy="301.2" r="3.4" fill="#7a72c0"/>
<circle cx="103.9" cy="302.3" r="3.4" fill="#7a72c0"/>
<circle cx="104.6" cy="303.4" r="3.4" fill="#7a72c0"/>
<circle cx="105.3" cy="304.5" r="3.4" fill="#7a72c0"/>
<circle cx="106.44" cy="305.17" r="3.4" fill="#7a72c0"/>
<circle cx="107.59" cy="305.84" r="3.4" fill="#7a72c0"/>
<circle cx="108.73" cy="306.51" r="3.4" fill="#7a72c0"/>
<circle cx="109.87" cy="307.19" r="3.4" fill="#7a72c0"/>
<circle cx="111.01" cy="307.86" r="3.4" fill="#7a72c0"/>
<circle cx="112.16" cy="308.53" r="3.4" fill="#7a72c0"/>
<circle cx="113.3" cy="309.2" r="3.4" fill="#7a72c0"/>
<circle cx="114.41" cy="309.94" r="3.4" fill="#7a72c0"/>
<circle cx="115.53" cy="310.68" r="3.4" fill="#7a72c0"/>
<circle cx="116.64" cy="311.41" r="3.4" fill="#7a72c0"/>
<circle cx="117.75" cy="312.15" r="3.4" fill="#7a72c0"/>
<circle cx="118.86" cy="312.89" r="3.4" fill="#7a72c0"/>
<circle cx="119.97" cy="313.62" r="3.4" fill="#7a72c0"/>
<circle cx="121.09" cy="314.36" r="3.4" fill="#7a72c0"/>
<circle cx="122.2" cy="315.1" r="3.4" fill="#7a72c0"/>
<circle cx="123.08" cy="316" r="3.4" fill="#7a72c0"/>
<circle cx="123.96" cy="316.9" r="3.4" fill="#7a72c0"/>
<circle cx="124.84" cy="317.8" r="3.4" fill="#7a72c0"/>
<circle cx="125.72" cy="318.7" r="3.4" fill="#7a72c0"/>
<circle cx="126.6" cy="319.6" r="3.4" fill="#7a72c0"/>
<circle cx="131.2" cy="339.6" r="3.3" fill="#7a72c0"/>
<circle cx="131.67" cy="340.6" r="3.3" fill="#7a72c0"/>
<circle cx="132.13" cy="341.6" r="3.3" fill="#7a72c0"/>
<circle cx="132.6" cy="342.6" r="3.3" fill="#7a72c0"/>
<circle cx="98.2" cy="279.5" r="3.3" fill="#383766"/>
<circle cx="98.8" cy="280.67" r="3.3" fill="#383766"/>
<circle cx="99.4" cy="281.83" r="3.3" fill="#383766"/>
<circle cx="100" cy="283" r="3.3" fill="#383766"/>
<circle cx="100.53" cy="284.3" r="3.3" fill="#383766"/>
<circle cx="101.07" cy="285.6" r="3.3" fill="#383766"/>
<circle cx="101.6" cy="286.9" r="3.3" fill="#383766"/>
<circle cx="101.95" cy="288.17" r="3.3" fill="#383766"/>
<circle cx="102.3" cy="289.45" r="3.3" fill="#383766"/>
<circle cx="102.65" cy="290.73" r="3.3" fill="#383766"/>
<circle cx="103" cy="292" r="3.3" fill="#383766"/>
<circle cx="103.5" cy="293.12" r="3.3" fill="#383766"/>
<circle cx="104" cy="294.25" r="3.3" fill="#383766"/>
<circle cx="104.5" cy="295.38" r="3.3" fill="#383766"/>
<circle cx="105" cy="296.5" r="3.3" fill="#383766"/>
<circle cx="105.87" cy="297.77" r="3.3" fill="#383766"/>
<circle cx="106.73" cy="299.03" r="3.3" fill="#383766"/>
<circle cx="107.6" cy="300.3" r="3.3" fill="#383766"/>
<circle cx="108.45" cy="301.23" r="3.3" fill="#383766"/>
<circle cx="109.3" cy="302.15" r="3.3" fill="#383766"/>
<circle cx="110.15" cy="303.07" r="3.3" fill="#383766"/>
<circle cx="111" cy="304" r="3.3" fill="#383766"/>
<circle cx="110.3" cy="287.6" r="2.9" fill="#383766"/>
<polygon points="114.4,300.8 117.1,299.2 119.9,296.2 123.8,295.1 126.3,297.0 126.6,303.3 125.8,307.6 123.0,310.3 119.7,310.7 117.2,309.2 115.1,305.8" fill="#383766" stroke="#383766" stroke-width="2.2" stroke-linejoin="round"/>
<ellipse cx="112.6" cy="313.8" rx="4.3" ry="6.9" fill="#383766"/>
<circle cx="131.1" cy="317.3" r="2.9" fill="#383766"/>
<circle cx="125.9" cy="321" r="3.2" fill="#383766"/>
<circle cx="126.72" cy="321.9" r="3.2" fill="#383766"/>
<circle cx="127.54" cy="322.8" r="3.2" fill="#383766"/>
<circle cx="128.36" cy="323.7" r="3.2" fill="#383766"/>
<circle cx="129.18" cy="324.6" r="3.2" fill="#383766"/>
<circle cx="130" cy="325.5" r="3.2" fill="#383766"/>
<circle cx="130.8" cy="326.4" r="3.2" fill="#383766"/>
<circle cx="131.6" cy="327.3" r="3.2" fill="#383766"/>
<circle cx="132.4" cy="328.2" r="3.2" fill="#383766"/>
<circle cx="133.2" cy="329.1" r="3.2" fill="#383766"/>
<circle cx="134" cy="330" r="3.2" fill="#383766"/>
<circle cx="134.75" cy="331.1" r="3.2" fill="#383766"/>
<circle cx="135.5" cy="332.2" r="3.2" fill="#383766"/>
<circle cx="136.25" cy="333.3" r="3.2" fill="#383766"/>
<circle cx="137" cy="334.4" r="3.2" fill="#383766"/>
<circle cx="136.38" cy="335.67" r="3.2" fill="#383766"/>
<circle cx="135.75" cy="336.95" r="3.2" fill="#383766"/>
<circle cx="135.12" cy="338.23" r="3.2" fill="#383766"/>
<circle cx="134.5" cy="339.5" r="3.2" fill="#383766"/>
<circle cx="135.88" cy="339.38" r="3.2" fill="#383766"/>
<circle cx="137.25" cy="339.25" r="3.2" fill="#383766"/>
<circle cx="138.62" cy="339.12" r="3.2" fill="#383766"/>
<circle cx="140" cy="339" r="3.2" fill="#383766"/>
<circle cx="141.28" cy="338.8" r="3.2" fill="#383766"/>
<circle cx="142.55" cy="338.6" r="3.2" fill="#383766"/>
<circle cx="143.82" cy="338.4" r="3.2" fill="#383766"/>
<circle cx="145.1" cy="338.2" r="3.2" fill="#383766"/>
<circle cx="146.38" cy="338.82" r="3.2" fill="#383766"/>
<circle cx="147.65" cy="339.45" r="3.2" fill="#383766"/>
<circle cx="148.92" cy="340.07" r="3.2" fill="#383766"/>
<circle cx="150.2" cy="340.7" r="3.2" fill="#383766"/>
<circle cx="151.18" cy="341.43" r="3.2" fill="#383766"/>
<circle cx="152.16" cy="342.16" r="3.2" fill="#383766"/>
<circle cx="153.14" cy="342.89" r="3.2" fill="#383766"/>
<circle cx="154.12" cy="343.62" r="3.2" fill="#383766"/>
<circle cx="155.1" cy="344.35" r="3.2" fill="#383766"/>
<circle cx="156.08" cy="345.08" r="3.2" fill="#383766"/>
<circle cx="157.06" cy="345.81" r="3.2" fill="#383766"/>
<circle cx="158.04" cy="346.54" r="3.2" fill="#383766"/>
<circle cx="159.02" cy="347.27" r="3.2" fill="#383766"/>
<circle cx="160" cy="348" r="3.2" fill="#383766"/>
<circle cx="160.96" cy="348.74" r="3.2" fill="#383766"/>
<circle cx="161.93" cy="349.48" r="3.2" fill="#383766"/>
<circle cx="162.89" cy="350.21" r="3.2" fill="#383766"/>
<circle cx="163.85" cy="350.95" r="3.2" fill="#383766"/>
<circle cx="164.81" cy="351.69" r="3.2" fill="#383766"/>
<circle cx="165.77" cy="352.42" r="3.2" fill="#383766"/>
<circle cx="166.74" cy="353.16" r="3.2" fill="#383766"/>
<circle cx="167.7" cy="353.9" r="3.2" fill="#383766"/>
<circle cx="168.78" cy="354.44" r="3.2" fill="#383766"/>
<circle cx="169.86" cy="354.99" r="3.2" fill="#383766"/>
<circle cx="170.94" cy="355.53" r="3.2" fill="#383766"/>
<circle cx="172.01" cy="356.07" r="3.2" fill="#383766"/>
<circle cx="173.09" cy="356.61" r="3.2" fill="#383766"/>
<circle cx="174.17" cy="357.16" r="3.2" fill="#383766"/>
<circle cx="175.25" cy="357.7" r="3.2" fill="#383766"/>
<circle cx="176.33" cy="358.24" r="3.2" fill="#383766"/>
<circle cx="177.41" cy="358.79" r="3.2" fill="#383766"/>
<circle cx="178.49" cy="359.33" r="3.2" fill="#383766"/>
<circle cx="179.56" cy="359.87" r="3.2" fill="#383766"/>
<circle cx="180.64" cy="360.41" r="3.2" fill="#383766"/>
<circle cx="181.72" cy="360.96" r="3.2" fill="#383766"/>
<circle cx="182.8" cy="361.5" r="3.2" fill="#383766"/>
<circle cx="183.88" cy="362.05" r="3.2" fill="#383766"/>
<circle cx="184.95" cy="362.6" r="3.2" fill="#383766"/>
<circle cx="186.03" cy="363.15" r="3.2" fill="#383766"/>
<circle cx="187.1" cy="363.7" r="3.2" fill="#383766"/>
<circle cx="188.18" cy="364.25" r="3.2" fill="#383766"/>
<circle cx="189.25" cy="364.8" r="3.2" fill="#383766"/>
<circle cx="190.33" cy="365.35" r="3.2" fill="#383766"/>
<circle cx="191.4" cy="365.9" r="3.2" fill="#383766"/>
<circle cx="192.47" cy="366.45" r="3.2" fill="#383766"/>
<circle cx="193.55" cy="367" r="3.2" fill="#383766"/>
<circle cx="194.62" cy="367.55" r="3.2" fill="#383766"/>
<circle cx="195.7" cy="368.1" r="3.2" fill="#383766"/>
<circle cx="196.78" cy="368.65" r="3.2" fill="#383766"/>
<circle cx="197.85" cy="369.2" r="3.2" fill="#383766"/>
<circle cx="198.93" cy="369.75" r="3.2" fill="#383766"/>
<circle cx="200" cy="370.3" r="3.2" fill="#383766"/>
<circle cx="201.21" cy="370.62" r="3.2" fill="#383766"/>
<circle cx="202.43" cy="370.94" r="3.2" fill="#383766"/>
<circle cx="203.64" cy="371.26" r="3.2" fill="#383766"/>
<circle cx="204.85" cy="371.58" r="3.2" fill="#383766"/>
<circle cx="206.07" cy="371.9" r="3.2" fill="#383766"/>
<circle cx="207.28" cy="372.22" r="3.2" fill="#383766"/>
<circle cx="208.49" cy="372.54" r="3.2" fill="#383766"/>
<circle cx="209.71" cy="372.86" r="3.2" fill="#383766"/>
<circle cx="210.92" cy="373.18" r="3.2" fill="#383766"/>
<circle cx="212.13" cy="373.5" r="3.2" fill="#383766"/>
<circle cx="213.35" cy="373.82" r="3.2" fill="#383766"/>
<circle cx="214.56" cy="374.14" r="3.2" fill="#383766"/>
<circle cx="215.77" cy="374.46" r="3.2" fill="#383766"/>
<circle cx="216.99" cy="374.78" r="3.2" fill="#383766"/>
<circle cx="218.2" cy="375.1" r="3.2" fill="#383766"/>
<circle cx="219.38" cy="375.4" r="3.2" fill="#383766"/>
<circle cx="220.56" cy="375.7" r="3.2" fill="#383766"/>
<circle cx="221.73" cy="376" r="3.2" fill="#383766"/>
<circle cx="222.91" cy="376.3" r="3.2" fill="#383766"/>
<circle cx="224.09" cy="376.6" r="3.2" fill="#383766"/>
<circle cx="225.27" cy="376.9" r="3.2" fill="#383766"/>
<circle cx="226.45" cy="377.2" r="3.2" fill="#383766"/>
<circle cx="227.63" cy="377.5" r="3.2" fill="#383766"/>
<circle cx="228.8" cy="377.8" r="3.2" fill="#383766"/>
<circle cx="229.98" cy="378.1" r="3.2" fill="#383766"/>
<circle cx="231.16" cy="378.4" r="3.2" fill="#383766"/>
<circle cx="232.34" cy="378.7" r="3.2" fill="#383766"/>
<circle cx="233.52" cy="379" r="3.2" fill="#383766"/>
<circle cx="234.7" cy="379.3" r="3.2" fill="#383766"/>
<circle cx="235.87" cy="379.6" r="3.2" fill="#383766"/>
<circle cx="237.05" cy="379.9" r="3.2" fill="#383766"/>
<circle cx="238.23" cy="380.2" r="3.2" fill="#383766"/>
<circle cx="239.41" cy="380.5" r="3.2" fill="#383766"/>
<circle cx="240.59" cy="380.8" r="3.2" fill="#383766"/>
<circle cx="241.77" cy="381.1" r="3.2" fill="#383766"/>
<circle cx="242.94" cy="381.4" r="3.2" fill="#383766"/>
<circle cx="244.12" cy="381.7" r="3.2" fill="#383766"/>
<circle cx="245.3" cy="382" r="3.2" fill="#383766"/>
<circle cx="246.5" cy="382.18" r="3.2" fill="#383766"/>
<circle cx="247.69" cy="382.36" r="3.2" fill="#383766"/>
<circle cx="248.89" cy="382.54" r="3.2" fill="#383766"/>
<circle cx="250.08" cy="382.72" r="3.2" fill="#383766"/>
<circle cx="251.28" cy="382.9" r="3.2" fill="#383766"/>
<circle cx="252.47" cy="383.09" r="3.2" fill="#383766"/>
<circle cx="253.67" cy="383.27" r="3.2" fill="#383766"/>
<circle cx="254.86" cy="383.45" r="3.2" fill="#383766"/>
<circle cx="256.06" cy="383.63" r="3.2" fill="#383766"/>
<circle cx="257.25" cy="383.81" r="3.2" fill="#383766"/>
<circle cx="258.45" cy="383.99" r="3.2" fill="#383766"/>
<circle cx="259.64" cy="384.17" r="3.2" fill="#383766"/>
<circle cx="260.84" cy="384.35" r="3.2" fill="#383766"/>
<circle cx="262.03" cy="384.53" r="3.2" fill="#383766"/>
<circle cx="263.23" cy="384.71" r="3.2" fill="#383766"/>
<circle cx="264.42" cy="384.9" r="3.2" fill="#383766"/>
<circle cx="265.62" cy="385.08" r="3.2" fill="#383766"/>
<circle cx="266.81" cy="385.26" r="3.2" fill="#383766"/>
<circle cx="268.01" cy="385.44" r="3.2" fill="#383766"/>
<circle cx="269.2" cy="385.62" r="3.2" fill="#383766"/>
<circle cx="270.4" cy="385.8" r="3.2" fill="#383766"/>
<circle cx="271.62" cy="385.98" r="3.2" fill="#383766"/>
<circle cx="272.84" cy="386.15" r="3.2" fill="#383766"/>
<circle cx="274.06" cy="386.33" r="3.2" fill="#383766"/>
<circle cx="275.28" cy="386.5" r="3.2" fill="#383766"/>
<circle cx="276.5" cy="386.68" r="3.2" fill="#383766"/>
<circle cx="277.71" cy="386.86" r="3.2" fill="#383766"/>
<circle cx="278.93" cy="387.03" r="3.2" fill="#383766"/>
<circle cx="280.15" cy="387.21" r="3.2" fill="#383766"/>
<circle cx="281.37" cy="387.39" r="3.2" fill="#383766"/>
<circle cx="282.59" cy="387.56" r="3.2" fill="#383766"/>
<circle cx="283.81" cy="387.74" r="3.2" fill="#383766"/>
<circle cx="285.03" cy="387.91" r="3.2" fill="#383766"/>
<circle cx="286.25" cy="388.09" r="3.2" fill="#383766"/>
<circle cx="287.47" cy="388.27" r="3.2" fill="#383766"/>
<circle cx="288.69" cy="388.44" r="3.2" fill="#383766"/>
<circle cx="289.9" cy="388.62" r="3.2" fill="#383766"/>
<circle cx="291.12" cy="388.8" r="3.2" fill="#383766"/>
<circle cx="292.34" cy="388.97" r="3.2" fill="#383766"/>
<circle cx="293.56" cy="389.15" r="3.2" fill="#383766"/>
<circle cx="294.78" cy="389.32" r="3.2" fill="#383766"/>
<circle cx="296" cy="389.5" r="3.2" fill="#383766"/>
<circle cx="297.22" cy="389.65" r="3.2" fill="#383766"/>
<circle cx="298.44" cy="389.79" r="3.2" fill="#383766"/>
<circle cx="299.65" cy="389.94" r="3.2" fill="#383766"/>
<circle cx="300.87" cy="390.08" r="3.2" fill="#383766"/>
<circle cx="302.09" cy="390.23" r="3.2" fill="#383766"/>
<circle cx="303.31" cy="390.37" r="3.2" fill="#383766"/>
<circle cx="304.53" cy="390.52" r="3.2" fill="#383766"/>
<circle cx="305.75" cy="390.66" r="3.2" fill="#383766"/>
<circle cx="306.96" cy="390.81" r="3.2" fill="#383766"/>
<circle cx="308.18" cy="390.95" r="3.2" fill="#383766"/>
<circle cx="309.4" cy="391.1" r="3.2" fill="#383766"/>
<circle cx="310.62" cy="391.25" r="3.2" fill="#383766"/>
<circle cx="311.84" cy="391.39" r="3.2" fill="#383766"/>
<circle cx="313.05" cy="391.54" r="3.2" fill="#383766"/>
<circle cx="314.27" cy="391.68" r="3.2" fill="#383766"/>
<circle cx="315.49" cy="391.83" r="3.2" fill="#383766"/>
<circle cx="316.71" cy="391.97" r="3.2" fill="#383766"/>
<circle cx="317.93" cy="392.12" r="3.2" fill="#383766"/>
<circle cx="319.15" cy="392.26" r="3.2" fill="#383766"/>
<circle cx="320.36" cy="392.41" r="3.2" fill="#383766"/>
<circle cx="321.58" cy="392.55" r="3.2" fill="#383766"/>
<circle cx="322.8" cy="392.7" r="3.2" fill="#383766"/>
<line x1="58.5" y1="364.6" x2="335.2" y2="364.6" stroke="#d6d6d6" stroke-width="0.7" stroke-dasharray="1.6,1.6"/>
<line x1="58.5" y1="327" x2="335.2" y2="327" stroke="#d6d6d6" stroke-width="0.7" stroke-dasharray="1.6,1.6"/>
<line x1="58.5" y1="289.4" x2="335.2" y2="289.4" stroke="#d6d6d6" stroke-width="0.7" stroke-dasharray="1.6,1.6"/>
<line x1="58.5" y1="251.8" x2="335.2" y2="251.8" stroke="#d6d6d6" stroke-width="0.7" stroke-dasharray="1.6,1.6"/>
<line x1="64.5" y1="225.2" x2="64.5" y2="400.4" stroke="#d6d6d6" stroke-width="0.7" stroke-dasharray="1.6,1.6"/>
<line x1="115.94" y1="225.2" x2="115.94" y2="400.4" stroke="#d6d6d6" stroke-width="0.7" stroke-dasharray="1.6,1.6"/>
<line x1="167.38" y1="225.2" x2="167.38" y2="400.4" stroke="#d6d6d6" stroke-width="0.7" stroke-dasharray="1.6,1.6"/>
<line x1="218.82" y1="225.2" x2="218.82" y2="400.4" stroke="#d6d6d6" stroke-width="0.7" stroke-dasharray="1.6,1.6"/>
<line x1="270.26" y1="225.2" x2="270.26" y2="400.4" stroke="#d6d6d6" stroke-width="0.7" stroke-dasharray="1.6,1.6"/>
<line x1="321.7" y1="225.2" x2="321.7" y2="400.4" stroke="#d6d6d6" stroke-width="0.7" stroke-dasharray="1.6,1.6"/>
<rect x="58.5" y="225.2" width="276.7" height="175.2" fill="none" stroke="#8c8c8c" stroke-width="1.3"/>
<line x1="58.5" y1="225.2" x2="58.5" y2="401" stroke="#3a3a3a" stroke-width="1.1"/>
<line x1="55" y1="364.6" x2="58.5" y2="364.6" stroke="#3a3a3a" stroke-width="1"/>
<line x1="55" y1="327" x2="58.5" y2="327" stroke="#3a3a3a" stroke-width="1"/>
<line x1="55" y1="289.4" x2="58.5" y2="289.4" stroke="#3a3a3a" stroke-width="1"/>
<line x1="55" y1="251.8" x2="58.5" y2="251.8" stroke="#3a3a3a" stroke-width="1"/>
<line x1="56.5" y1="390.88" x2="58.5" y2="390.88" stroke="#3a3a3a" stroke-width="1"/>
<line x1="56.5" y1="384.26" x2="58.5" y2="384.26" stroke="#3a3a3a" stroke-width="1"/>
<line x1="56.5" y1="379.56" x2="58.5" y2="379.56" stroke="#3a3a3a" stroke-width="1"/>
<line x1="56.5" y1="375.92" x2="58.5" y2="375.92" stroke="#3a3a3a" stroke-width="1"/>
<line x1="56.5" y1="372.94" x2="58.5" y2="372.94" stroke="#3a3a3a" stroke-width="1"/>
<line x1="56.5" y1="370.42" x2="58.5" y2="370.42" stroke="#3a3a3a" stroke-width="1"/>
<line x1="56.5" y1="368.24" x2="58.5" y2="368.24" stroke="#3a3a3a" stroke-width="1"/>
<line x1="56.5" y1="366.32" x2="58.5" y2="366.32" stroke="#3a3a3a" stroke-width="1"/>
<line x1="56.5" y1="353.28" x2="58.5" y2="353.28" stroke="#3a3a3a" stroke-width="1"/>
<line x1="56.5" y1="346.66" x2="58.5" y2="346.66" stroke="#3a3a3a" stroke-width="1"/>
<line x1="56.5" y1="341.96" x2="58.5" y2="341.96" stroke="#3a3a3a" stroke-width="1"/>
<line x1="56.5" y1="338.32" x2="58.5" y2="338.32" stroke="#3a3a3a" stroke-width="1"/>
<line x1="56.5" y1="335.34" x2="58.5" y2="335.34" stroke="#3a3a3a" stroke-width="1"/>
<line x1="56.5" y1="332.82" x2="58.5" y2="332.82" stroke="#3a3a3a" stroke-width="1"/>
<line x1="56.5" y1="330.64" x2="58.5" y2="330.64" stroke="#3a3a3a" stroke-width="1"/>
<line x1="56.5" y1="328.72" x2="58.5" y2="328.72" stroke="#3a3a3a" stroke-width="1"/>
<line x1="56.5" y1="315.68" x2="58.5" y2="315.68" stroke="#3a3a3a" stroke-width="1"/>
<line x1="56.5" y1="309.06" x2="58.5" y2="309.06" stroke="#3a3a3a" stroke-width="1"/>
<line x1="56.5" y1="304.36" x2="58.5" y2="304.36" stroke="#3a3a3a" stroke-width="1"/>
<line x1="56.5" y1="300.72" x2="58.5" y2="300.72" stroke="#3a3a3a" stroke-width="1"/>
<line x1="56.5" y1="297.74" x2="58.5" y2="297.74" stroke="#3a3a3a" stroke-width="1"/>
<line x1="56.5" y1="295.22" x2="58.5" y2="295.22" stroke="#3a3a3a" stroke-width="1"/>
<line x1="56.5" y1="293.04" x2="58.5" y2="293.04" stroke="#3a3a3a" stroke-width="1"/>
<line x1="56.5" y1="291.12" x2="58.5" y2="291.12" stroke="#3a3a3a" stroke-width="1"/>
<line x1="56.5" y1="278.08" x2="58.5" y2="278.08" stroke="#3a3a3a" stroke-width="1"/>
<line x1="56.5" y1="271.46" x2="58.5" y2="271.46" stroke="#3a3a3a" stroke-width="1"/>
<line x1="56.5" y1="266.76" x2="58.5" y2="266.76" stroke="#3a3a3a" stroke-width="1"/>
<line x1="56.5" y1="263.12" x2="58.5" y2="263.12" stroke="#3a3a3a" stroke-width="1"/>
<line x1="56.5" y1="260.14" x2="58.5" y2="260.14" stroke="#3a3a3a" stroke-width="1"/>
<line x1="56.5" y1="257.62" x2="58.5" y2="257.62" stroke="#3a3a3a" stroke-width="1"/>
<line x1="56.5" y1="255.44" x2="58.5" y2="255.44" stroke="#3a3a3a" stroke-width="1"/>
<line x1="56.5" y1="253.52" x2="58.5" y2="253.52" stroke="#3a3a3a" stroke-width="1"/>
<line x1="56.5" y1="240.48" x2="58.5" y2="240.48" stroke="#3a3a3a" stroke-width="1"/>
<line x1="56.5" y1="233.86" x2="58.5" y2="233.86" stroke="#3a3a3a" stroke-width="1"/>
<line x1="56.5" y1="229.16" x2="58.5" y2="229.16" stroke="#3a3a3a" stroke-width="1"/>
<line x1="56.5" y1="225.52" x2="58.5" y2="225.52" stroke="#3a3a3a" stroke-width="1"/>
<line x1="64.5" y1="400.4" x2="64.5" y2="403.9" stroke="#3a3a3a" stroke-width="1"/>
<line x1="115.94" y1="400.4" x2="115.94" y2="403.9" stroke="#3a3a3a" stroke-width="1"/>
<line x1="167.38" y1="400.4" x2="167.38" y2="403.9" stroke="#3a3a3a" stroke-width="1"/>
<line x1="218.82" y1="400.4" x2="218.82" y2="403.9" stroke="#3a3a3a" stroke-width="1"/>
<line x1="270.26" y1="400.4" x2="270.26" y2="403.9" stroke="#3a3a3a" stroke-width="1"/>
<line x1="321.7" y1="400.4" x2="321.7" y2="403.9" stroke="#3a3a3a" stroke-width="1"/>
<text x="46.9" y="370.1" font-size="15.6" text-anchor="end" textLength="17.81" lengthAdjust="spacingAndGlyphs" fill="#1a1a1a">10</text>
<text x="47.8" y="364.3" font-size="9.6" textLength="5.2" lengthAdjust="spacingAndGlyphs" fill="#1a1a1a">1</text>
<text x="46.9" y="332.5" font-size="15.6" text-anchor="end" textLength="17.81" lengthAdjust="spacingAndGlyphs" fill="#1a1a1a">10</text>
<text x="47.8" y="326.7" font-size="9.6" textLength="5.2" lengthAdjust="spacingAndGlyphs" fill="#1a1a1a">2</text>
<text x="46.9" y="294.9" font-size="15.6" text-anchor="end" textLength="17.81" lengthAdjust="spacingAndGlyphs" fill="#1a1a1a">10</text>
<text x="47.8" y="289.1" font-size="9.6" textLength="5.2" lengthAdjust="spacingAndGlyphs" fill="#1a1a1a">3</text>
<text x="46.9" y="257.3" font-size="15.6" text-anchor="end" textLength="17.81" lengthAdjust="spacingAndGlyphs" fill="#1a1a1a">10</text>
<text x="47.8" y="251.5" font-size="9.6" textLength="5.2" lengthAdjust="spacingAndGlyphs" fill="#1a1a1a">4</text>
<text x="64.5" y="417.2" font-size="15.6" text-anchor="middle" textLength="17.81" lengthAdjust="spacingAndGlyphs" fill="#1a1a1a">50</text>
<text x="115.94" y="417.2" font-size="15.6" text-anchor="middle" textLength="26.72" lengthAdjust="spacingAndGlyphs" fill="#1a1a1a">100</text>
<text x="167.38" y="417.2" font-size="15.6" text-anchor="middle" textLength="26.72" lengthAdjust="spacingAndGlyphs" fill="#1a1a1a">150</text>
<text x="218.82" y="417.2" font-size="15.6" text-anchor="middle" textLength="26.72" lengthAdjust="spacingAndGlyphs" fill="#1a1a1a">200</text>
<text x="270.26" y="417.2" font-size="15.6" text-anchor="middle" textLength="26.72" lengthAdjust="spacingAndGlyphs" fill="#1a1a1a">250</text>
<text x="321.7" y="417.2" font-size="15.6" text-anchor="middle" textLength="26.72" lengthAdjust="spacingAndGlyphs" fill="#1a1a1a">300</text>
<text x="197.4" y="434.2" font-size="15.6" text-anchor="middle" textLength="115.92" lengthAdjust="spacingAndGlyphs" fill="#1a1a1a">Temperature (K)</text>
<text x="93.2" y="248.5" font-size="19.5" textLength="24.4" lengthAdjust="spacingAndGlyphs" fill="#1a1a1a">(c)</text>
<rect x="227.4" y="232.5" width="100.3" height="45.9" rx="2.5" fill="#fff" fill-opacity="0.85" stroke="#dcdcdc" stroke-width="0.9"/>
<circle cx="247.3" cy="245" r="2.7" fill="#383766"/>
<circle cx="247.3" cy="265.6" r="2.7" fill="#7a72c0"/>
<text x="265.6" y="248.6" font-size="15.6" textLength="56.78" lengthAdjust="spacingAndGlyphs" fill="#1a1a1a">Heating</text>
<text x="265.6" y="269.6" font-size="15.6" textLength="54.28" lengthAdjust="spacingAndGlyphs" fill="#1a1a1a">Cooling</text>
<g transform="translate(22.1,312.7) rotate(-90)">
<text x="0" y="0" font-size="15.6" text-anchor="middle" textLength="121.91" lengthAdjust="spacingAndGlyphs" fill="#1a1a1a">Resistivity (Ωcm)</text>
</g>
<circle cx="415.9" cy="328.3" r="3.9" fill="rgba(128,128,128,0.7)"/>
<circle cx="428.8" cy="323.9" r="3.9" fill="rgba(128,128,128,0.7)"/>
<circle cx="428.8" cy="328.3" r="3.9" fill="rgba(128,128,128,0.7)"/>
<circle cx="441.9" cy="318.8" r="3.9" fill="rgba(128,128,128,0.7)"/>
<circle cx="441.9" cy="327.4" r="3.9" fill="rgba(128,128,128,0.7)"/>
<circle cx="455.1" cy="317" r="3.9" fill="rgba(128,128,128,0.7)"/>
<circle cx="468" cy="319.5" r="3.9" fill="rgba(128,128,128,0.7)"/>
<circle cx="481.2" cy="318" r="3.9" fill="rgba(128,128,128,0.7)"/>
<circle cx="487.7" cy="320.4" r="3.9" fill="rgba(128,128,128,0.7)"/>
<circle cx="494.2" cy="317.3" r="3.9" fill="rgba(128,128,128,0.7)"/>
<circle cx="500.8" cy="316.8" r="3.9" fill="rgba(128,128,128,0.7)"/>
<circle cx="507.4" cy="314.6" r="3.9" fill="rgba(128,128,128,0.7)"/>
<circle cx="513.9" cy="311.9" r="3.9" fill="rgba(128,128,128,0.7)"/>
<circle cx="518" cy="311.4" r="3.9" fill="rgba(128,128,128,0.7)"/>
<circle cx="532.8" cy="304" r="3.9" fill="rgba(128,128,128,0.7)"/>
<circle cx="546.5" cy="296.6" r="3.9" fill="rgba(128,128,128,0.7)"/>
<circle cx="625.4" cy="291.9" r="3.9" fill="rgba(128,128,128,0.7)"/>
<circle cx="638.5" cy="276.6" r="3.9" fill="rgba(128,128,128,0.7)"/>
<circle cx="651.7" cy="281" r="3.9" fill="rgba(128,128,128,0.7)"/>
<circle cx="651.7" cy="290.5" r="3.9" fill="rgba(128,128,128,0.7)"/>
<circle cx="664.9" cy="283.6" r="3.9" fill="rgba(128,128,128,0.7)"/>
<circle cx="664.9" cy="286.4" r="3.9" fill="rgba(128,128,128,0.7)"/>
<circle cx="677.7" cy="284.3" r="3.9" fill="rgba(128,128,128,0.7)"/>
<circle cx="677.7" cy="296.8" r="3.9" fill="rgba(128,128,128,0.7)"/>
<circle cx="415.8" cy="379" r="3.9" fill="rgba(0,0,0,0.7)"/>
<circle cx="428.9" cy="374.2" r="3.9" fill="rgba(0,0,0,0.7)"/>
<circle cx="428.9" cy="378.4" r="3.9" fill="rgba(0,0,0,0.7)"/>
<circle cx="441.9" cy="376.3" r="3.9" fill="rgba(0,0,0,0.7)"/>
<circle cx="441.9" cy="392.7" r="3.9" fill="rgba(0,0,0,0.7)"/>
<circle cx="454.9" cy="357.1" r="3.9" fill="rgba(0,0,0,0.7)"/>
<circle cx="454.9" cy="372.3" r="3.9" fill="rgba(0,0,0,0.7)"/>
<circle cx="468.1" cy="367.5" r="3.9" fill="rgba(0,0,0,0.7)"/>
<circle cx="468.1" cy="367.5" r="3.9" fill="rgba(0,0,0,0.7)"/>
<circle cx="481.2" cy="361.2" r="3.9" fill="rgba(0,0,0,0.7)"/>
<circle cx="481.2" cy="365.9" r="3.9" fill="rgba(0,0,0,0.7)"/>
<circle cx="487.3" cy="361.5" r="3.9" fill="rgba(0,0,0,0.7)"/>
<circle cx="487.3" cy="364" r="3.9" fill="rgba(0,0,0,0.7)"/>
<circle cx="494.3" cy="358" r="3.9" fill="rgba(0,0,0,0.7)"/>
<circle cx="494.3" cy="362.4" r="3.9" fill="rgba(0,0,0,0.7)"/>
<circle cx="500.4" cy="355.4" r="3.9" fill="rgba(0,0,0,0.7)"/>
<circle cx="501" cy="353.6" r="3.9" fill="rgba(0,0,0,0.7)"/>
<circle cx="507.4" cy="351" r="3.9" fill="rgba(0,0,0,0.7)"/>
<circle cx="507.4" cy="358.9" r="3.9" fill="rgba(0,0,0,0.7)"/>
<circle cx="513.8" cy="347" r="3.9" fill="rgba(0,0,0,0.7)"/>
<circle cx="513.6" cy="357.7" r="3.9" fill="rgba(0,0,0,0.7)"/>
<circle cx="520.4" cy="342.6" r="3.9" fill="rgba(0,0,0,0.7)"/>
<circle cx="520.4" cy="350" r="3.9" fill="rgba(0,0,0,0.7)"/>
<circle cx="527.2" cy="337" r="3.9" fill="rgba(0,0,0,0.7)"/>
<circle cx="527.3" cy="346.5" r="3.9" fill="rgba(0,0,0,0.7)"/>
<circle cx="534" cy="329.5" r="3.9" fill="rgba(0,0,0,0.7)"/>
<circle cx="534.3" cy="342.2" r="3.9" fill="rgba(0,0,0,0.7)"/>
<circle cx="539.6" cy="337" r="3.9" fill="rgba(0,0,0,0.7)"/>
<circle cx="543.6" cy="330" r="3.9" fill="rgba(0,0,0,0.7)"/>
<circle cx="547.2" cy="324.3" r="3.9" fill="rgba(0,0,0,0.7)"/>
<circle cx="550" cy="315" r="3.9" fill="rgba(0,0,0,0.7)"/>
<circle cx="539.5" cy="313.3" r="3.9" fill="rgba(0,0,0,0.7)"/>
<circle cx="541.5" cy="316" r="3.9" fill="rgba(0,0,0,0.7)"/>
<circle cx="546.9" cy="290.6" r="3.9" fill="rgba(0,0,0,0.7)"/>
<circle cx="549.9" cy="282.4" r="3.9" fill="rgba(0,0,0,0.7)"/>
<circle cx="553.6" cy="278.7" r="3.9" fill="rgba(0,0,0,0.7)"/>
<circle cx="556.5" cy="272.8" r="3.9" fill="rgba(0,0,0,0.7)"/>
<circle cx="560.3" cy="272.8" r="3.9" fill="rgba(0,0,0,0.7)"/>
<circle cx="559.5" cy="278.7" r="3.9" fill="rgba(0,0,0,0.7)"/>
<circle cx="556.5" cy="283.2" r="3.9" fill="rgba(0,0,0,0.7)"/>
<circle cx="561" cy="284.7" r="3.9" fill="rgba(0,0,0,0.7)"/>
<circle cx="552.7" cy="288.6" r="3.9" fill="rgba(0,0,0,0.7)"/>
<circle cx="566.2" cy="266.1" r="3.9" fill="rgba(0,0,0,0.7)"/>
<circle cx="566.9" cy="275" r="3.9" fill="rgba(0,0,0,0.7)"/>
<circle cx="572.9" cy="261.7" r="3.9" fill="rgba(0,0,0,0.7)"/>
<circle cx="573.6" cy="269.8" r="3.9" fill="rgba(0,0,0,0.7)"/>
<circle cx="579.5" cy="260.2" r="3.9" fill="rgba(0,0,0,0.7)"/>
<circle cx="580.3" cy="266.1" r="3.9" fill="rgba(0,0,0,0.7)"/>
<circle cx="586.2" cy="256.5" r="3.9" fill="rgba(0,0,0,0.7)"/>
<circle cx="587" cy="261.7" r="3.9" fill="rgba(0,0,0,0.7)"/>
<circle cx="592.9" cy="256.5" r="3.9" fill="rgba(0,0,0,0.7)"/>
<circle cx="597.3" cy="255.7" r="3.9" fill="rgba(0,0,0,0.7)"/>
<circle cx="599.3" cy="252.5" r="3.9" fill="rgba(0,0,0,0.7)"/>
<circle cx="605.7" cy="250.4" r="3.9" fill="rgba(0,0,0,0.7)"/>
<circle cx="612" cy="245.1" r="3.9" fill="rgba(0,0,0,0.7)"/>
<circle cx="612" cy="247.5" r="3.9" fill="rgba(0,0,0,0.7)"/>
<circle cx="625.8" cy="243" r="3.9" fill="rgba(0,0,0,0.7)"/>
<circle cx="625.8" cy="249.4" r="3.9" fill="rgba(0,0,0,0.7)"/>
<circle cx="638.5" cy="240.9" r="3.9" fill="rgba(0,0,0,0.7)"/>
<circle cx="638.5" cy="245.1" r="3.9" fill="rgba(0,0,0,0.7)"/>
<circle cx="651.9" cy="233.9" r="3.9" fill="rgba(0,0,0,0.7)"/>
<circle cx="651.9" cy="239.8" r="3.9" fill="rgba(0,0,0,0.7)"/>
<circle cx="665" cy="232.4" r="3.9" fill="rgba(0,0,0,0.7)"/>
<circle cx="665" cy="238.1" r="3.9" fill="rgba(0,0,0,0.7)"/>
<circle cx="678.1" cy="236.7" r="3.9" fill="rgba(0,0,0,0.7)"/>
<circle cx="678.1" cy="238.5" r="3.9" fill="rgba(0,0,0,0.7)"/>
<circle cx="638.5" cy="265.3" r="3.9" fill="rgba(0,0,0,0.7)"/>
<circle cx="448.2" cy="336.5" r="3.9" fill="rgba(110,110,195,0.78)"/>
<circle cx="448.2" cy="340.5" r="3.9" fill="rgba(110,110,195,0.78)"/>
<circle cx="455.1" cy="339.6" r="3.9" fill="rgba(110,110,195,0.78)"/>
<circle cx="455.1" cy="343.3" r="3.9" fill="rgba(110,110,195,0.78)"/>
<circle cx="461.4" cy="338.7" r="3.9" fill="rgba(110,110,195,0.78)"/>
<circle cx="468" cy="337.2" r="3.9" fill="rgba(110,110,195,0.78)"/>
<circle cx="474.5" cy="336.5" r="3.9" fill="rgba(110,110,195,0.78)"/>
<circle cx="481.1" cy="335.8" r="3.9" fill="rgba(110,110,195,0.78)"/>
<circle cx="487.7" cy="334.3" r="3.9" fill="rgba(110,110,195,0.78)"/>
<circle cx="494.2" cy="333.6" r="3.9" fill="rgba(110,110,195,0.78)"/>
<circle cx="500.8" cy="332.1" r="3.9" fill="rgba(110,110,195,0.78)"/>
<circle cx="507.4" cy="330.7" r="3.9" fill="rgba(110,110,195,0.78)"/>
<circle cx="513.9" cy="329.2" r="3.9" fill="rgba(110,110,195,0.78)"/>
<circle cx="520.5" cy="327" r="3.9" fill="rgba(110,110,195,0.78)"/>
<circle cx="527.1" cy="324.8" r="3.9" fill="rgba(110,110,195,0.78)"/>
<circle cx="532" cy="321" r="3.9" fill="rgba(110,110,195,0.78)"/>
<circle cx="536" cy="318.5" r="3.9" fill="rgba(110,110,195,0.78)"/>
<circle cx="540" cy="314.5" r="3.9" fill="rgba(110,110,195,0.78)"/>
<circle cx="543" cy="311.5" r="3.9" fill="rgba(110,110,195,0.78)"/>
<circle cx="547" cy="306.5" r="3.9" fill="rgba(110,110,195,0.78)"/>
<circle cx="550" cy="302.8" r="3.9" fill="rgba(110,110,195,0.78)"/>
<circle cx="553.5" cy="298" r="3.9" fill="rgba(110,110,195,0.78)"/>
<circle cx="557" cy="294" r="3.9" fill="rgba(110,110,195,0.78)"/>
<circle cx="564" cy="290.5" r="3.9" fill="rgba(110,110,195,0.78)"/>
<circle cx="571" cy="287.9" r="3.9" fill="rgba(110,110,195,0.78)"/>
<circle cx="578.1" cy="285.3" r="3.9" fill="rgba(110,110,195,0.78)"/>
<circle cx="585.1" cy="283.5" r="3.9" fill="rgba(110,110,195,0.78)"/>
<circle cx="565.4" cy="289.1" r="3.9" fill="rgba(110,110,195,0.78)"/>
<circle cx="572.1" cy="286.2" r="3.9" fill="rgba(110,110,195,0.78)"/>
<circle cx="578.8" cy="284.7" r="3.9" fill="rgba(110,110,195,0.78)"/>
<circle cx="585.5" cy="283.2" r="3.9" fill="rgba(110,110,195,0.78)"/>
<circle cx="592.2" cy="281.7" r="3.9" fill="rgba(110,110,195,0.78)"/>
<circle cx="598.1" cy="279.5" r="3.9" fill="rgba(110,110,195,0.78)"/>
<circle cx="599" cy="280.1" r="3.9" fill="rgba(110,110,195,0.78)"/>
<circle cx="605.3" cy="279.4" r="3.9" fill="rgba(110,110,195,0.78)"/>
<circle cx="612.2" cy="278.7" r="3.9" fill="rgba(110,110,195,0.78)"/>
<circle cx="619.1" cy="277.3" r="3.9" fill="rgba(110,110,195,0.78)"/>
<circle cx="625.4" cy="276.6" r="3.9" fill="rgba(110,110,195,0.78)"/>
<circle cx="632.3" cy="276.6" r="3.9" fill="rgba(110,110,195,0.78)"/>
<circle cx="638.5" cy="269.7" r="3.9" fill="rgba(110,110,195,0.78)"/>
<circle cx="638.5" cy="276.6" r="3.9" fill="rgba(110,110,195,0.78)"/>
<circle cx="645.5" cy="266.9" r="3.9" fill="rgba(110,110,195,0.78)"/>
<circle cx="645.5" cy="274.6" r="3.9" fill="rgba(110,110,195,0.78)"/>
<circle cx="523.9" cy="315.8" r="3.9" fill="rgba(110,110,195,0.78)"/>
<circle cx="530" cy="313.5" r="3.9" fill="rgba(110,110,195,0.78)"/>
<circle cx="536" cy="311" r="3.9" fill="rgba(110,110,195,0.78)"/>
<circle cx="542" cy="308" r="3.9" fill="rgba(110,110,195,0.78)"/>
<circle cx="548" cy="305" r="3.9" fill="rgba(110,110,195,0.78)"/>
<circle cx="554" cy="302" r="3.9" fill="rgba(110,110,195,0.78)"/>
<circle cx="559.5" cy="299.5" r="3.9" fill="rgba(110,110,195,0.78)"/>
<circle cx="592.8" cy="285.7" r="3.9" fill="rgba(110,110,195,0.78)"/>
<circle cx="441.7" cy="335" r="3.9" fill="rgba(228,45,160,0.8)"/>
<circle cx="448.2" cy="329.2" r="3.9" fill="rgba(228,45,160,0.8)"/>
<circle cx="455.1" cy="325.8" r="3.9" fill="rgba(228,45,160,0.8)"/>
<circle cx="454.8" cy="332.8" r="3.9" fill="rgba(228,45,160,0.8)"/>
<circle cx="461.4" cy="327" r="3.9" fill="rgba(228,45,160,0.8)"/>
<circle cx="461.4" cy="332.1" r="3.9" fill="rgba(228,45,160,0.8)"/>
<circle cx="468" cy="319.5" r="3.9" fill="rgba(228,45,160,0.8)"/>
<circle cx="474.5" cy="330.7" r="3.9" fill="rgba(228,45,160,0.8)"/>
<circle cx="474.5" cy="325.5" r="3.9" fill="rgba(228,45,160,0.8)"/>
<circle cx="481.1" cy="326.3" r="3.9" fill="rgba(228,45,160,0.8)"/>
<circle cx="481.1" cy="329.2" r="3.9" fill="rgba(228,45,160,0.8)"/>
<circle cx="487.7" cy="324.1" r="3.9" fill="rgba(228,45,160,0.8)"/>
<circle cx="487.7" cy="327.7" r="3.9" fill="rgba(228,45,160,0.8)"/>
<circle cx="494.2" cy="322.6" r="3.9" fill="rgba(228,45,160,0.8)"/>
<circle cx="494.2" cy="326.3" r="3.9" fill="rgba(228,45,160,0.8)"/>
<circle cx="500.8" cy="320.4" r="3.9" fill="rgba(228,45,160,0.8)"/>
<circle cx="500.8" cy="324.8" r="3.9" fill="rgba(228,45,160,0.8)"/>
<circle cx="507.4" cy="318.2" r="3.9" fill="rgba(228,45,160,0.8)"/>
<circle cx="507.4" cy="323.4" r="3.9" fill="rgba(228,45,160,0.8)"/>
<circle cx="513.9" cy="316" r="3.9" fill="rgba(228,45,160,0.8)"/>
<circle cx="513.9" cy="321.9" r="3.9" fill="rgba(228,45,160,0.8)"/>
<circle cx="520.5" cy="313.1" r="3.9" fill="rgba(228,45,160,0.8)"/>
<circle cx="520.5" cy="318.5" r="3.9" fill="rgba(228,45,160,0.8)"/>
<circle cx="527.1" cy="310.9" r="3.9" fill="rgba(228,45,160,0.8)"/>
<circle cx="527.1" cy="317" r="3.9" fill="rgba(228,45,160,0.8)"/>
<circle cx="534.3" cy="308" r="3.9" fill="rgba(228,45,160,0.8)"/>
<circle cx="535.8" cy="305.4" r="3.9" fill="rgba(228,45,160,0.8)"/>
<circle cx="541.3" cy="305.4" r="3.9" fill="rgba(228,45,160,0.8)"/>
<circle cx="543.2" cy="302.5" r="3.9" fill="rgba(228,45,160,0.8)"/>
<circle cx="548.3" cy="301.9" r="3.9" fill="rgba(228,45,160,0.8)"/>
<circle cx="550.6" cy="299.5" r="3.9" fill="rgba(228,45,160,0.8)"/>
<circle cx="555.3" cy="299.3" r="3.9" fill="rgba(228,45,160,0.8)"/>
<circle cx="558" cy="297.3" r="3.9" fill="rgba(228,45,160,0.8)"/>
<circle cx="562.3" cy="296.6" r="3.9" fill="rgba(228,45,160,0.8)"/>
<circle cx="565.4" cy="294.3" r="3.9" fill="rgba(228,45,160,0.8)"/>
<circle cx="569.3" cy="294" r="3.9" fill="rgba(228,45,160,0.8)"/>
<circle cx="572.1" cy="291.4" r="3.9" fill="rgba(228,45,160,0.8)"/>
<circle cx="578.8" cy="290.6" r="3.9" fill="rgba(228,45,160,0.8)"/>
<circle cx="585.5" cy="289.9" r="3.9" fill="rgba(228,45,160,0.8)"/>
<circle cx="592.2" cy="288.4" r="3.9" fill="rgba(228,45,160,0.8)"/>
<circle cx="598.1" cy="286.9" r="3.9" fill="rgba(228,45,160,0.8)"/>
<circle cx="529.8" cy="314.3" r="3.9" fill="rgba(228,45,160,0.8)"/>
<circle cx="536" cy="313" r="3.9" fill="rgba(228,45,160,0.8)"/>
<circle cx="538.7" cy="311.4" r="3.9" fill="rgba(228,45,160,0.8)"/>
<circle cx="543" cy="310" r="3.9" fill="rgba(228,45,160,0.8)"/>
<circle cx="547.6" cy="308.4" r="3.9" fill="rgba(228,45,160,0.8)"/>
<circle cx="552" cy="307" r="3.9" fill="rgba(228,45,160,0.8)"/>
<circle cx="556.5" cy="305.4" r="3.9" fill="rgba(228,45,160,0.8)"/>
<circle cx="561" cy="304.3" r="3.9" fill="rgba(228,45,160,0.8)"/>
<circle cx="565.4" cy="303.2" r="3.9" fill="rgba(228,45,160,0.8)"/>
<circle cx="570" cy="301.8" r="3.9" fill="rgba(228,45,160,0.8)"/>
<circle cx="574.3" cy="300.3" r="3.9" fill="rgba(228,45,160,0.8)"/>
<circle cx="578.8" cy="299.2" r="3.9" fill="rgba(228,45,160,0.8)"/>
<circle cx="583.2" cy="298" r="3.9" fill="rgba(228,45,160,0.8)"/>
<circle cx="588" cy="297.2" r="3.9" fill="rgba(228,45,160,0.8)"/>
<circle cx="592.2" cy="296.5" r="3.9" fill="rgba(228,45,160,0.8)"/>
<circle cx="598.1" cy="295.8" r="3.9" fill="rgba(228,45,160,0.8)"/>
<circle cx="605.3" cy="292.6" r="3.9" fill="rgba(228,45,160,0.8)"/>
<circle cx="612.2" cy="290" r="3.9" fill="rgba(228,45,160,0.8)"/>
<circle cx="619.1" cy="288.4" r="3.9" fill="rgba(228,45,160,0.8)"/>
<circle cx="599" cy="289.8" r="3.9" fill="rgba(228,45,160,0.8)"/>
<circle cx="605.3" cy="289.1" r="3.9" fill="rgba(228,45,160,0.8)"/>
<circle cx="612.2" cy="287" r="3.9" fill="rgba(228,45,160,0.8)"/>
<circle cx="619.1" cy="286.4" r="3.9" fill="rgba(228,45,160,0.8)"/>
<circle cx="625.4" cy="285" r="3.9" fill="rgba(228,45,160,0.8)"/>
<circle cx="632.3" cy="284.7" r="3.9" fill="rgba(228,45,160,0.8)"/>
<circle cx="638.5" cy="282.9" r="3.9" fill="rgba(228,45,160,0.8)"/>
<circle cx="638.5" cy="290.5" r="3.9" fill="rgba(228,45,160,0.8)"/>
<circle cx="645.5" cy="282.2" r="3.9" fill="rgba(228,45,160,0.8)"/>
<circle cx="651.7" cy="283.6" r="3.9" fill="rgba(228,45,160,0.8)"/>
<line x1="409.5" y1="238.4" x2="683.8" y2="238.4" stroke="#d6d6d6" stroke-width="0.7" stroke-dasharray="1.6,1.6"/>
<line x1="409.5" y1="273.15" x2="683.8" y2="273.15" stroke="#d6d6d6" stroke-width="0.7" stroke-dasharray="1.6,1.6"/>
<line x1="409.5" y1="307.9" x2="683.8" y2="307.9" stroke="#d6d6d6" stroke-width="0.7" stroke-dasharray="1.6,1.6"/>
<line x1="409.5" y1="342.65" x2="683.8" y2="342.65" stroke="#d6d6d6" stroke-width="0.7" stroke-dasharray="1.6,1.6"/>
<line x1="409.5" y1="377.4" x2="683.8" y2="377.4" stroke="#d6d6d6" stroke-width="0.7" stroke-dasharray="1.6,1.6"/>
<line x1="415.9" y1="225.1" x2="415.9" y2="400.6" stroke="#d6d6d6" stroke-width="0.7" stroke-dasharray="1.6,1.6"/>
<line x1="481.2" y1="225.1" x2="481.2" y2="400.6" stroke="#d6d6d6" stroke-width="0.7" stroke-dasharray="1.6,1.6"/>
<line x1="546.5" y1="225.1" x2="546.5" y2="400.6" stroke="#d6d6d6" stroke-width="0.7" stroke-dasharray="1.6,1.6"/>
<line x1="611.8" y1="225.1" x2="611.8" y2="400.6" stroke="#d6d6d6" stroke-width="0.7" stroke-dasharray="1.6,1.6"/>
<line x1="677.1" y1="225.1" x2="677.1" y2="400.6" stroke="#d6d6d6" stroke-width="0.7" stroke-dasharray="1.6,1.6"/>
<rect x="409.5" y="225.1" width="274.3" height="175.5" fill="none" stroke="#8c8c8c" stroke-width="1.3"/>
<line x1="409.5" y1="225.1" x2="409.5" y2="401.2" stroke="#3a3a3a" stroke-width="1.1"/>
<line x1="406" y1="238.4" x2="409.5" y2="238.4" stroke="#3a3a3a" stroke-width="1"/>
<line x1="406" y1="273.15" x2="409.5" y2="273.15" stroke="#3a3a3a" stroke-width="1"/>
<line x1="406" y1="307.9" x2="409.5" y2="307.9" stroke="#3a3a3a" stroke-width="1"/>
<line x1="406" y1="342.65" x2="409.5" y2="342.65" stroke="#3a3a3a" stroke-width="1"/>
<line x1="406" y1="377.4" x2="409.5" y2="377.4" stroke="#3a3a3a" stroke-width="1"/>
<line x1="415.9" y1="400.6" x2="415.9" y2="404.1" stroke="#3a3a3a" stroke-width="1"/>
<line x1="481.2" y1="400.6" x2="481.2" y2="404.1" stroke="#3a3a3a" stroke-width="1"/>
<line x1="546.5" y1="400.6" x2="546.5" y2="404.1" stroke="#3a3a3a" stroke-width="1"/>
<line x1="611.8" y1="400.6" x2="611.8" y2="404.1" stroke="#3a3a3a" stroke-width="1"/>
<line x1="677.1" y1="400.6" x2="677.1" y2="404.1" stroke="#3a3a3a" stroke-width="1"/>
<text x="403.6" y="243.6" font-size="15.6" text-anchor="end" textLength="17.81" lengthAdjust="spacingAndGlyphs" fill="#1a1a1a">40</text>
<text x="403.6" y="278.35" font-size="15.6" text-anchor="end" textLength="17.81" lengthAdjust="spacingAndGlyphs" fill="#1a1a1a">20</text>
<text x="403.6" y="313.1" font-size="15.6" text-anchor="end" textLength="8.91" lengthAdjust="spacingAndGlyphs" fill="#1a1a1a">0</text>
<text x="403.6" y="347.85" font-size="15.6" text-anchor="end" textLength="29.54" lengthAdjust="spacingAndGlyphs" fill="#1a1a1a">−20</text>
<text x="403.6" y="382.6" font-size="15.6" text-anchor="end" textLength="29.54" lengthAdjust="spacingAndGlyphs" fill="#1a1a1a">−40</text>
<text x="415.9" y="417.6" font-size="15.6" text-anchor="middle" textLength="20.64" lengthAdjust="spacingAndGlyphs" fill="#1a1a1a">−2</text>
<text x="481.2" y="417.6" font-size="15.6" text-anchor="middle" textLength="20.64" lengthAdjust="spacingAndGlyphs" fill="#1a1a1a">−1</text>
<text x="546.5" y="417.6" font-size="15.6" text-anchor="middle" textLength="8.91" lengthAdjust="spacingAndGlyphs" fill="#1a1a1a">0</text>
<text x="611.8" y="417.6" font-size="15.6" text-anchor="middle" textLength="8.91" lengthAdjust="spacingAndGlyphs" fill="#1a1a1a">1</text>
<text x="677.1" y="417.6" font-size="15.6" text-anchor="middle" textLength="8.91" lengthAdjust="spacingAndGlyphs" fill="#1a1a1a">2</text>
<text x="546.6" y="434.2" font-size="15.6" text-anchor="middle" textLength="53.64" lengthAdjust="spacingAndGlyphs" fill="#1a1a1a">H (kOe)</text>
<text x="419.3" y="248.5" font-size="19.5" textLength="25.8" lengthAdjust="spacingAndGlyphs" fill="#1a1a1a">(d)</text>
<rect x="572.5" y="314.1" width="103.8" height="79" rx="2.5" fill="#fff" fill-opacity="0.85" stroke="#dcdcdc" stroke-width="0.9"/>
<circle cx="592.4" cy="326.7" r="3.6" fill="rgba(128,128,128,0.7)"/>
<circle cx="592.4" cy="344.5" r="3.6" fill="rgba(0,0,0,0.7)"/>
<circle cx="592.4" cy="362.7" r="3.6" fill="rgba(110,110,195,0.78)"/>
<circle cx="592.4" cy="380.3" r="3.6" fill="rgba(228,45,160,0.8)"/>
<text x="611" y="330.9" font-size="15.3" fill="#1a1a1a" textLength="41.2" lengthAdjust="spacingAndGlyphs">Cr<tspan font-size="10.4" dy="3">2</tspan><tspan dy="-3">O</tspan><tspan font-size="10.4" dy="3">3</tspan></text>
<text x="611" y="348.7" font-size="15.3" fill="#1a1a1a" textLength="35.2" lengthAdjust="spacingAndGlyphs">V<tspan font-size="10.4" dy="3">2</tspan><tspan dy="-3">O</tspan><tspan font-size="10.4" dy="3">3</tspan></text>
<text x="611" y="366.8" font-size="15.6" textLength="28.79" lengthAdjust="spacingAndGlyphs" fill="#1a1a1a">1ML</text>
<text x="611" y="384.5" font-size="15.6" textLength="60.39" lengthAdjust="spacingAndGlyphs" fill="#1a1a1a">Co-depo</text>
<g transform="translate(369.6,312.9) rotate(-90)">
<text x="0" y="0" font-size="15.3" fill="#1a1a1a" text-anchor="middle" textLength="180" lengthAdjust="spacingAndGlyphs">Magnetization (emu/cm<tspan font-size="10.4" dy="-5.5">3</tspan><tspan dy="5.5">)</tspan></text>
</g>
</svg></body></html>
